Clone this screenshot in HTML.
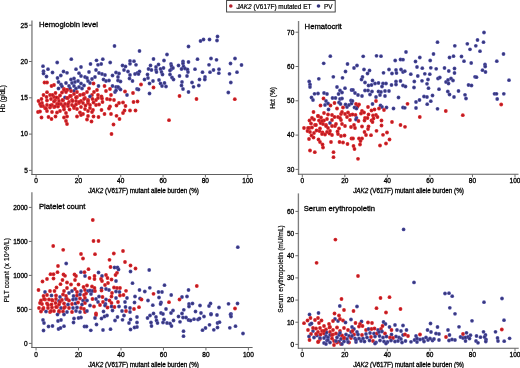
<!DOCTYPE html>
<html><head><meta charset="utf-8"><style>
html,body{margin:0;padding:0;background:#fff;width:520px;height:368px;overflow:hidden}
body{position:relative;font-family:"Liberation Sans", sans-serif}
</style></head><body>
<svg width="520" height="368" viewBox="0 0 520 368" style="position:absolute;left:0;top:0;filter:blur(0.3px)">
<rect width="520" height="368" fill="#fff"/>
<defs><radialGradient id="gr"><stop offset="0" stop-color="#9c1a24"/><stop offset="0.55" stop-color="#cc2228"/><stop offset="1" stop-color="#e42c2c"/></radialGradient><radialGradient id="gb"><stop offset="0" stop-color="#30306a"/><stop offset="0.55" stop-color="#40408a"/><stop offset="1" stop-color="#5858b2"/></radialGradient></defs>
<circle cx="57.2" cy="62.5" r="1.9" fill="url(#gb)"/>
<circle cx="71.3" cy="59.2" r="1.9" fill="url(#gb)"/>
<circle cx="43.0" cy="66.2" r="1.9" fill="url(#gb)"/>
<circle cx="81.0" cy="67.0" r="1.9" fill="url(#gb)"/>
<circle cx="48.0" cy="69.2" r="1.9" fill="url(#gb)"/>
<circle cx="76.0" cy="69.2" r="1.9" fill="url(#gb)"/>
<circle cx="43.5" cy="71.2" r="1.9" fill="url(#gb)"/>
<circle cx="43.5" cy="73.5" r="1.9" fill="url(#gb)"/>
<circle cx="52.5" cy="72.5" r="1.9" fill="url(#gb)"/>
<circle cx="63.5" cy="71.5" r="1.9" fill="url(#gb)"/>
<circle cx="67.0" cy="72.8" r="1.9" fill="url(#gb)"/>
<circle cx="79.0" cy="73.2" r="1.9" fill="url(#gb)"/>
<circle cx="81.0" cy="76.0" r="1.9" fill="url(#gb)"/>
<circle cx="46.5" cy="76.5" r="1.9" fill="url(#gb)"/>
<circle cx="60.8" cy="75.5" r="1.9" fill="url(#gb)"/>
<circle cx="57.5" cy="78.0" r="1.9" fill="url(#gb)"/>
<circle cx="85.0" cy="77.0" r="1.9" fill="url(#gb)"/>
<circle cx="71.0" cy="79.5" r="1.9" fill="url(#gb)"/>
<circle cx="74.0" cy="78.5" r="1.9" fill="url(#gb)"/>
<circle cx="44.5" cy="82.5" r="1.9" fill="url(#gr)"/>
<circle cx="47.0" cy="82.5" r="1.9" fill="url(#gr)"/>
<circle cx="58.5" cy="82.0" r="1.9" fill="url(#gb)"/>
<circle cx="66.0" cy="83.0" r="1.9" fill="url(#gb)"/>
<circle cx="51.5" cy="86.0" r="1.9" fill="url(#gr)"/>
<circle cx="54.0" cy="85.0" r="1.9" fill="url(#gr)"/>
<circle cx="61.0" cy="84.5" r="1.9" fill="url(#gb)"/>
<circle cx="62.0" cy="86.5" r="1.9" fill="url(#gb)"/>
<circle cx="58.5" cy="88.5" r="1.9" fill="url(#gb)"/>
<circle cx="69.0" cy="86.0" r="1.9" fill="url(#gb)"/>
<circle cx="72.0" cy="83.0" r="1.9" fill="url(#gb)"/>
<circle cx="75.0" cy="82.0" r="1.9" fill="url(#gb)"/>
<circle cx="74.0" cy="86.0" r="1.9" fill="url(#gb)"/>
<circle cx="78.0" cy="81.0" r="1.9" fill="url(#gb)"/>
<circle cx="81.0" cy="83.5" r="1.9" fill="url(#gb)"/>
<circle cx="84.0" cy="85.5" r="1.9" fill="url(#gb)"/>
<circle cx="79.0" cy="87.0" r="1.9" fill="url(#gb)"/>
<circle cx="82.0" cy="88.5" r="1.9" fill="url(#gb)"/>
<circle cx="76.0" cy="88.5" r="1.9" fill="url(#gb)"/>
<circle cx="70.0" cy="88.5" r="1.9" fill="url(#gb)"/>
<circle cx="64.0" cy="89.0" r="1.9" fill="url(#gr)"/>
<circle cx="67.0" cy="90.0" r="1.9" fill="url(#gr)"/>
<circle cx="65.0" cy="97.5" r="1.9" fill="url(#gb)"/>
<circle cx="74.0" cy="91.0" r="1.9" fill="url(#gb)"/>
<circle cx="47.0" cy="92.2" r="1.9" fill="url(#gr)"/>
<circle cx="43.5" cy="95.0" r="1.9" fill="url(#gr)"/>
<circle cx="50.0" cy="95.0" r="1.9" fill="url(#gr)"/>
<circle cx="55.5" cy="93.0" r="1.9" fill="url(#gr)"/>
<circle cx="54.0" cy="97.0" r="1.9" fill="url(#gr)"/>
<circle cx="58.0" cy="98.0" r="1.9" fill="url(#gr)"/>
<circle cx="62.0" cy="92.5" r="1.9" fill="url(#gr)"/>
<circle cx="64.0" cy="90.0" r="1.9" fill="url(#gr)"/>
<circle cx="67.0" cy="90.0" r="1.9" fill="url(#gr)"/>
<circle cx="38.5" cy="101.0" r="1.9" fill="url(#gr)"/>
<circle cx="42.0" cy="103.0" r="1.9" fill="url(#gr)"/>
<circle cx="47.0" cy="100.5" r="1.9" fill="url(#gr)"/>
<circle cx="51.0" cy="99.0" r="1.9" fill="url(#gr)"/>
<circle cx="55.0" cy="100.5" r="1.9" fill="url(#gr)"/>
<circle cx="59.0" cy="101.0" r="1.9" fill="url(#gr)"/>
<circle cx="63.0" cy="100.5" r="1.9" fill="url(#gr)"/>
<circle cx="68.0" cy="98.0" r="1.9" fill="url(#gr)"/>
<circle cx="71.0" cy="96.0" r="1.9" fill="url(#gr)"/>
<circle cx="74.0" cy="94.0" r="1.9" fill="url(#gr)"/>
<circle cx="77.0" cy="97.0" r="1.9" fill="url(#gr)"/>
<circle cx="80.0" cy="95.0" r="1.9" fill="url(#gr)"/>
<circle cx="84.0" cy="94.0" r="1.9" fill="url(#gr)"/>
<circle cx="85.0" cy="98.0" r="1.9" fill="url(#gr)"/>
<circle cx="81.0" cy="101.0" r="1.9" fill="url(#gr)"/>
<circle cx="76.0" cy="101.0" r="1.9" fill="url(#gr)"/>
<circle cx="72.0" cy="100.0" r="1.9" fill="url(#gr)"/>
<circle cx="69.0" cy="102.0" r="1.9" fill="url(#gr)"/>
<circle cx="65.0" cy="104.0" r="1.9" fill="url(#gr)"/>
<circle cx="61.0" cy="104.0" r="1.9" fill="url(#gr)"/>
<circle cx="57.0" cy="104.0" r="1.9" fill="url(#gr)"/>
<circle cx="52.0" cy="105.0" r="1.9" fill="url(#gr)"/>
<circle cx="47.0" cy="105.0" r="1.9" fill="url(#gr)"/>
<circle cx="43.0" cy="106.0" r="1.9" fill="url(#gr)"/>
<circle cx="40.0" cy="104.0" r="1.9" fill="url(#gr)"/>
<circle cx="45.0" cy="108.0" r="1.9" fill="url(#gr)"/>
<circle cx="50.0" cy="107.5" r="1.9" fill="url(#gr)"/>
<circle cx="54.0" cy="107.0" r="1.9" fill="url(#gr)"/>
<circle cx="58.0" cy="106.5" r="1.9" fill="url(#gr)"/>
<circle cx="64.0" cy="107.0" r="1.9" fill="url(#gr)"/>
<circle cx="68.0" cy="106.0" r="1.9" fill="url(#gr)"/>
<circle cx="72.0" cy="105.0" r="1.9" fill="url(#gr)"/>
<circle cx="76.0" cy="104.5" r="1.9" fill="url(#gr)"/>
<circle cx="79.0" cy="103.0" r="1.9" fill="url(#gr)"/>
<circle cx="83.0" cy="103.0" r="1.9" fill="url(#gr)"/>
<circle cx="74.0" cy="108.0" r="1.9" fill="url(#gr)"/>
<circle cx="77.0" cy="109.0" r="1.9" fill="url(#gr)"/>
<circle cx="85.0" cy="109.0" r="1.9" fill="url(#gr)"/>
<circle cx="38.0" cy="112.0" r="1.9" fill="url(#gr)"/>
<circle cx="40.0" cy="111.5" r="1.9" fill="url(#gr)"/>
<circle cx="47.0" cy="111.0" r="1.9" fill="url(#gr)"/>
<circle cx="52.0" cy="112.0" r="1.9" fill="url(#gr)"/>
<circle cx="57.0" cy="112.5" r="1.9" fill="url(#gr)"/>
<circle cx="60.0" cy="111.0" r="1.9" fill="url(#gr)"/>
<circle cx="64.0" cy="109.5" r="1.9" fill="url(#gr)"/>
<circle cx="66.0" cy="113.0" r="1.9" fill="url(#gr)"/>
<circle cx="80.0" cy="112.5" r="1.9" fill="url(#gr)"/>
<circle cx="83.0" cy="114.0" r="1.9" fill="url(#gr)"/>
<circle cx="81.0" cy="115.0" r="1.9" fill="url(#gr)"/>
<circle cx="41.5" cy="117.5" r="1.9" fill="url(#gr)"/>
<circle cx="48.5" cy="117.0" r="1.9" fill="url(#gr)"/>
<circle cx="51.5" cy="119.0" r="1.9" fill="url(#gr)"/>
<circle cx="55.5" cy="116.5" r="1.9" fill="url(#gr)"/>
<circle cx="64.0" cy="117.5" r="1.9" fill="url(#gr)"/>
<circle cx="67.0" cy="116.5" r="1.9" fill="url(#gr)"/>
<circle cx="66.0" cy="121.0" r="1.9" fill="url(#gr)"/>
<circle cx="77.0" cy="116.5" r="1.9" fill="url(#gr)"/>
<circle cx="90.5" cy="64.0" r="1.9" fill="url(#gb)"/>
<circle cx="98.0" cy="64.8" r="1.9" fill="url(#gb)"/>
<circle cx="101.2" cy="64.0" r="1.9" fill="url(#gb)"/>
<circle cx="122.5" cy="65.5" r="1.9" fill="url(#gb)"/>
<circle cx="125.5" cy="66.5" r="1.9" fill="url(#gb)"/>
<circle cx="130.0" cy="63.8" r="1.9" fill="url(#gb)"/>
<circle cx="136.0" cy="64.8" r="1.9" fill="url(#gb)"/>
<circle cx="89.0" cy="72.0" r="1.9" fill="url(#gb)"/>
<circle cx="96.0" cy="70.0" r="1.9" fill="url(#gb)"/>
<circle cx="99.0" cy="73.0" r="1.9" fill="url(#gb)"/>
<circle cx="102.0" cy="74.0" r="1.9" fill="url(#gb)"/>
<circle cx="105.0" cy="75.0" r="1.9" fill="url(#gb)"/>
<circle cx="87.0" cy="78.0" r="1.9" fill="url(#gb)"/>
<circle cx="92.0" cy="79.0" r="1.9" fill="url(#gb)"/>
<circle cx="95.0" cy="77.0" r="1.9" fill="url(#gb)"/>
<circle cx="103.5" cy="79.5" r="1.9" fill="url(#gb)"/>
<circle cx="106.0" cy="81.0" r="1.9" fill="url(#gb)"/>
<circle cx="109.0" cy="80.5" r="1.9" fill="url(#gb)"/>
<circle cx="112.5" cy="75.5" r="1.9" fill="url(#gb)"/>
<circle cx="116.0" cy="72.5" r="1.9" fill="url(#gb)"/>
<circle cx="119.0" cy="73.5" r="1.9" fill="url(#gb)"/>
<circle cx="118.0" cy="77.0" r="1.9" fill="url(#gb)"/>
<circle cx="118.0" cy="80.5" r="1.9" fill="url(#gb)"/>
<circle cx="120.5" cy="81.5" r="1.9" fill="url(#gb)"/>
<circle cx="124.0" cy="70.0" r="1.9" fill="url(#gb)"/>
<circle cx="128.0" cy="71.5" r="1.9" fill="url(#gb)"/>
<circle cx="130.0" cy="75.0" r="1.9" fill="url(#gb)"/>
<circle cx="129.5" cy="78.5" r="1.9" fill="url(#gb)"/>
<circle cx="132.5" cy="81.0" r="1.9" fill="url(#gb)"/>
<circle cx="135.0" cy="74.0" r="1.9" fill="url(#gb)"/>
<circle cx="137.5" cy="73.0" r="1.9" fill="url(#gb)"/>
<circle cx="88.0" cy="81.0" r="1.9" fill="url(#gb)"/>
<circle cx="90.0" cy="83.0" r="1.9" fill="url(#gb)"/>
<circle cx="112.5" cy="86.0" r="1.9" fill="url(#gb)"/>
<circle cx="116.0" cy="87.0" r="1.9" fill="url(#gb)"/>
<circle cx="119.0" cy="88.0" r="1.9" fill="url(#gb)"/>
<circle cx="115.0" cy="92.0" r="1.9" fill="url(#gb)"/>
<circle cx="137.0" cy="89.0" r="1.9" fill="url(#gb)"/>
<circle cx="127.0" cy="95.0" r="1.9" fill="url(#gb)"/>
<circle cx="98.5" cy="86.0" r="1.9" fill="url(#gb)"/>
<circle cx="93.5" cy="83.5" r="1.9" fill="url(#gr)"/>
<circle cx="89.0" cy="88.5" r="1.9" fill="url(#gr)"/>
<circle cx="104.5" cy="86.0" r="1.9" fill="url(#gr)"/>
<circle cx="110.0" cy="89.0" r="1.9" fill="url(#gr)"/>
<circle cx="106.0" cy="91.0" r="1.9" fill="url(#gr)"/>
<circle cx="125.0" cy="91.5" r="1.9" fill="url(#gr)"/>
<circle cx="133.0" cy="93.0" r="1.9" fill="url(#gr)"/>
<circle cx="111.0" cy="95.0" r="1.9" fill="url(#gr)"/>
<circle cx="94.0" cy="92.0" r="1.9" fill="url(#gr)"/>
<circle cx="97.0" cy="90.0" r="1.9" fill="url(#gr)"/>
<circle cx="92.0" cy="95.0" r="1.9" fill="url(#gr)"/>
<circle cx="98.0" cy="95.0" r="1.9" fill="url(#gr)"/>
<circle cx="87.0" cy="92.0" r="1.9" fill="url(#gr)"/>
<circle cx="101.5" cy="96.5" r="1.9" fill="url(#gr)"/>
<circle cx="114.5" cy="46.0" r="1.9" fill="url(#gb)"/>
<circle cx="102.8" cy="59.2" r="1.9" fill="url(#gb)"/>
<circle cx="96.5" cy="60.3" r="1.9" fill="url(#gb)"/>
<circle cx="110.2" cy="62.5" r="1.9" fill="url(#gb)"/>
<circle cx="130.0" cy="61.0" r="1.9" fill="url(#gb)"/>
<circle cx="134.0" cy="61.2" r="1.9" fill="url(#gb)"/>
<circle cx="90.0" cy="96.5" r="1.9" fill="url(#gb)"/>
<circle cx="102.0" cy="98.5" r="1.9" fill="url(#gr)"/>
<circle cx="107.0" cy="99.0" r="1.9" fill="url(#gr)"/>
<circle cx="110.0" cy="99.5" r="1.9" fill="url(#gr)"/>
<circle cx="114.0" cy="100.0" r="1.9" fill="url(#gr)"/>
<circle cx="96.0" cy="100.0" r="1.9" fill="url(#gr)"/>
<circle cx="98.0" cy="98.0" r="1.9" fill="url(#gr)"/>
<circle cx="88.0" cy="100.0" r="1.9" fill="url(#gr)"/>
<circle cx="102.5" cy="102.0" r="1.9" fill="url(#gr)"/>
<circle cx="99.0" cy="104.5" r="1.9" fill="url(#gr)"/>
<circle cx="96.0" cy="105.0" r="1.9" fill="url(#gr)"/>
<circle cx="90.0" cy="105.0" r="1.9" fill="url(#gr)"/>
<circle cx="88.0" cy="103.0" r="1.9" fill="url(#gr)"/>
<circle cx="119.0" cy="103.0" r="1.9" fill="url(#gr)"/>
<circle cx="123.0" cy="102.5" r="1.9" fill="url(#gr)"/>
<circle cx="116.5" cy="105.5" r="1.9" fill="url(#gr)"/>
<circle cx="125.5" cy="106.0" r="1.9" fill="url(#gr)"/>
<circle cx="133.5" cy="102.0" r="1.9" fill="url(#gr)"/>
<circle cx="137.5" cy="101.5" r="1.9" fill="url(#gr)"/>
<circle cx="110.0" cy="106.5" r="1.9" fill="url(#gr)"/>
<circle cx="109.0" cy="108.5" r="1.9" fill="url(#gr)"/>
<circle cx="101.5" cy="110.0" r="1.9" fill="url(#gr)"/>
<circle cx="93.0" cy="110.0" r="1.9" fill="url(#gr)"/>
<circle cx="88.0" cy="111.0" r="1.9" fill="url(#gr)"/>
<circle cx="90.0" cy="108.0" r="1.9" fill="url(#gr)"/>
<circle cx="124.5" cy="110.5" r="1.9" fill="url(#gr)"/>
<circle cx="123.0" cy="113.0" r="1.9" fill="url(#gr)"/>
<circle cx="130.0" cy="110.5" r="1.9" fill="url(#gr)"/>
<circle cx="135.5" cy="110.5" r="1.9" fill="url(#gr)"/>
<circle cx="104.5" cy="114.0" r="1.9" fill="url(#gr)"/>
<circle cx="111.0" cy="114.0" r="1.9" fill="url(#gr)"/>
<circle cx="116.5" cy="115.8" r="1.9" fill="url(#gr)"/>
<circle cx="119.5" cy="119.0" r="1.9" fill="url(#gr)"/>
<circle cx="93.5" cy="116.5" r="1.9" fill="url(#gr)"/>
<circle cx="98.5" cy="117.0" r="1.9" fill="url(#gr)"/>
<circle cx="88.0" cy="116.0" r="1.9" fill="url(#gr)"/>
<circle cx="87.0" cy="119.5" r="1.9" fill="url(#gr)"/>
<circle cx="91.5" cy="121.5" r="1.9" fill="url(#gr)"/>
<circle cx="113.5" cy="124.5" r="1.9" fill="url(#gr)"/>
<circle cx="92.0" cy="112.0" r="1.9" fill="url(#gr)"/>
<circle cx="67.0" cy="124.0" r="1.9" fill="url(#gr)"/>
<circle cx="111.5" cy="134.0" r="1.9" fill="url(#gr)"/>
<circle cx="139.5" cy="51.0" r="1.9" fill="url(#gb)"/>
<circle cx="188.5" cy="46.5" r="1.9" fill="url(#gb)"/>
<circle cx="167.0" cy="54.5" r="1.9" fill="url(#gb)"/>
<circle cx="153.5" cy="59.0" r="1.9" fill="url(#gb)"/>
<circle cx="164.0" cy="60.5" r="1.9" fill="url(#gb)"/>
<circle cx="183.0" cy="61.5" r="1.9" fill="url(#gb)"/>
<circle cx="188.5" cy="62.0" r="1.9" fill="url(#gb)"/>
<circle cx="150.5" cy="65.5" r="1.9" fill="url(#gb)"/>
<circle cx="158.5" cy="64.5" r="1.9" fill="url(#gb)"/>
<circle cx="156.0" cy="67.0" r="1.9" fill="url(#gb)"/>
<circle cx="171.0" cy="64.0" r="1.9" fill="url(#gb)"/>
<circle cx="171.5" cy="66.0" r="1.9" fill="url(#gb)"/>
<circle cx="178.5" cy="65.5" r="1.9" fill="url(#gb)"/>
<circle cx="183.0" cy="63.5" r="1.9" fill="url(#gb)"/>
<circle cx="183.5" cy="66.5" r="1.9" fill="url(#gb)"/>
<circle cx="148.5" cy="69.0" r="1.9" fill="url(#gb)"/>
<circle cx="151.5" cy="70.0" r="1.9" fill="url(#gb)"/>
<circle cx="156.0" cy="70.0" r="1.9" fill="url(#gb)"/>
<circle cx="156.5" cy="72.0" r="1.9" fill="url(#gb)"/>
<circle cx="160.5" cy="69.0" r="1.9" fill="url(#gb)"/>
<circle cx="163.5" cy="68.0" r="1.9" fill="url(#gb)"/>
<circle cx="161.5" cy="72.0" r="1.9" fill="url(#gb)"/>
<circle cx="162.5" cy="74.5" r="1.9" fill="url(#gb)"/>
<circle cx="171.5" cy="69.0" r="1.9" fill="url(#gb)"/>
<circle cx="173.0" cy="68.0" r="1.9" fill="url(#gb)"/>
<circle cx="170.0" cy="70.5" r="1.9" fill="url(#gb)"/>
<circle cx="181.5" cy="69.0" r="1.9" fill="url(#gb)"/>
<circle cx="185.0" cy="68.5" r="1.9" fill="url(#gb)"/>
<circle cx="187.5" cy="69.5" r="1.9" fill="url(#gb)"/>
<circle cx="188.0" cy="72.0" r="1.9" fill="url(#gb)"/>
<circle cx="139.5" cy="71.5" r="1.9" fill="url(#gb)"/>
<circle cx="138.5" cy="74.0" r="1.9" fill="url(#gb)"/>
<circle cx="147.5" cy="74.5" r="1.9" fill="url(#gb)"/>
<circle cx="148.0" cy="78.0" r="1.9" fill="url(#gb)"/>
<circle cx="144.5" cy="79.5" r="1.9" fill="url(#gb)"/>
<circle cx="170.0" cy="74.5" r="1.9" fill="url(#gb)"/>
<circle cx="172.0" cy="77.5" r="1.9" fill="url(#gb)"/>
<circle cx="173.5" cy="79.5" r="1.9" fill="url(#gb)"/>
<circle cx="179.5" cy="76.0" r="1.9" fill="url(#gb)"/>
<circle cx="187.0" cy="76.0" r="1.9" fill="url(#gb)"/>
<circle cx="159.0" cy="80.0" r="1.9" fill="url(#gb)"/>
<circle cx="153.0" cy="81.0" r="1.9" fill="url(#gb)"/>
<circle cx="149.5" cy="83.5" r="1.9" fill="url(#gb)"/>
<circle cx="160.5" cy="83.5" r="1.9" fill="url(#gb)"/>
<circle cx="164.5" cy="83.0" r="1.9" fill="url(#gb)"/>
<circle cx="162.0" cy="86.0" r="1.9" fill="url(#gb)"/>
<circle cx="166.0" cy="86.5" r="1.9" fill="url(#gb)"/>
<circle cx="182.0" cy="82.0" r="1.9" fill="url(#gb)"/>
<circle cx="181.5" cy="85.5" r="1.9" fill="url(#gb)"/>
<circle cx="183.0" cy="89.0" r="1.9" fill="url(#gb)"/>
<circle cx="188.5" cy="92.0" r="1.9" fill="url(#gb)"/>
<circle cx="138.5" cy="89.5" r="1.9" fill="url(#gb)"/>
<circle cx="149.5" cy="93.5" r="1.9" fill="url(#gb)"/>
<circle cx="141.0" cy="84.5" r="1.9" fill="url(#gr)"/>
<circle cx="153.5" cy="87.5" r="1.9" fill="url(#gr)"/>
<circle cx="179.5" cy="96.0" r="1.9" fill="url(#gr)"/>
<circle cx="169.0" cy="120.2" r="1.9" fill="url(#gr)"/>
<circle cx="200.5" cy="41.0" r="1.9" fill="url(#gb)"/>
<circle cx="203.5" cy="39.5" r="1.9" fill="url(#gb)"/>
<circle cx="209.5" cy="39.5" r="1.9" fill="url(#gb)"/>
<circle cx="217.5" cy="36.5" r="1.9" fill="url(#gb)"/>
<circle cx="217.0" cy="40.5" r="1.9" fill="url(#gb)"/>
<circle cx="197.5" cy="59.2" r="1.9" fill="url(#gb)"/>
<circle cx="211.0" cy="58.5" r="1.9" fill="url(#gb)"/>
<circle cx="216.5" cy="59.8" r="1.9" fill="url(#gb)"/>
<circle cx="235.0" cy="58.5" r="1.9" fill="url(#gb)"/>
<circle cx="230.5" cy="63.5" r="1.9" fill="url(#gb)"/>
<circle cx="209.0" cy="64.8" r="1.9" fill="url(#gb)"/>
<circle cx="241.5" cy="65.0" r="1.9" fill="url(#gb)"/>
<circle cx="195.0" cy="69.2" r="1.9" fill="url(#gb)"/>
<circle cx="202.5" cy="72.2" r="1.9" fill="url(#gb)"/>
<circle cx="210.0" cy="72.2" r="1.9" fill="url(#gb)"/>
<circle cx="213.5" cy="70.0" r="1.9" fill="url(#gb)"/>
<circle cx="219.0" cy="69.2" r="1.9" fill="url(#gb)"/>
<circle cx="218.8" cy="73.2" r="1.9" fill="url(#gb)"/>
<circle cx="229.5" cy="73.8" r="1.9" fill="url(#gb)"/>
<circle cx="237.0" cy="72.2" r="1.9" fill="url(#gb)"/>
<circle cx="205.0" cy="77.0" r="1.9" fill="url(#gb)"/>
<circle cx="204.8" cy="79.5" r="1.9" fill="url(#gb)"/>
<circle cx="199.5" cy="79.5" r="1.9" fill="url(#gb)"/>
<circle cx="192.0" cy="82.5" r="1.9" fill="url(#gb)"/>
<circle cx="193.5" cy="86.8" r="1.9" fill="url(#gb)"/>
<circle cx="198.8" cy="85.5" r="1.9" fill="url(#gb)"/>
<circle cx="230.8" cy="82.5" r="1.9" fill="url(#gb)"/>
<circle cx="228.3" cy="92.5" r="1.9" fill="url(#gb)"/>
<circle cx="196.5" cy="99.0" r="1.9" fill="url(#gr)"/>
<circle cx="234.8" cy="99.2" r="1.9" fill="url(#gr)"/>
<circle cx="52.5" cy="95.0" r="1.9" fill="url(#gr)"/>
<circle cx="54.0" cy="101.5" r="1.9" fill="url(#gr)"/>
<circle cx="56.5" cy="97.5" r="1.9" fill="url(#gr)"/>
<circle cx="50.5" cy="105.5" r="1.9" fill="url(#gr)"/>
<circle cx="55.0" cy="106.5" r="1.9" fill="url(#gr)"/>
<circle cx="60.0" cy="95.5" r="1.9" fill="url(#gr)"/>
<circle cx="62.5" cy="100.0" r="1.9" fill="url(#gr)"/>
<circle cx="58.5" cy="104.0" r="1.9" fill="url(#gr)"/>
<circle cx="63.0" cy="106.0" r="1.9" fill="url(#gr)"/>
<circle cx="67.0" cy="98.0" r="1.9" fill="url(#gr)"/>
<circle cx="70.0" cy="96.0" r="1.9" fill="url(#gr)"/>
<circle cx="72.5" cy="101.0" r="1.9" fill="url(#gr)"/>
<circle cx="76.0" cy="97.5" r="1.9" fill="url(#gr)"/>
<circle cx="79.0" cy="102.0" r="1.9" fill="url(#gr)"/>
<circle cx="84.0" cy="99.0" r="1.9" fill="url(#gr)"/>
<circle cx="88.0" cy="101.0" r="1.9" fill="url(#gr)"/>
<circle cx="68.0" cy="104.0" r="1.9" fill="url(#gr)"/>
<circle cx="74.0" cy="106.5" r="1.9" fill="url(#gr)"/>
<circle cx="81.0" cy="107.0" r="1.9" fill="url(#gr)"/>
<circle cx="66.0" cy="92.0" r="1.9" fill="url(#gr)"/>
<circle cx="71.0" cy="91.0" r="1.9" fill="url(#gr)"/>
<circle cx="77.0" cy="92.0" r="1.9" fill="url(#gr)"/>
<circle cx="83.0" cy="94.5" r="1.9" fill="url(#gr)"/>
<circle cx="46.0" cy="108.5" r="1.9" fill="url(#gr)"/>
<circle cx="41.0" cy="106.0" r="1.9" fill="url(#gr)"/>
<circle cx="118.0" cy="87.0" r="1.9" fill="url(#gb)"/>
<circle cx="120.5" cy="89.5" r="1.9" fill="url(#gb)"/>
<circle cx="116.0" cy="90.5" r="1.9" fill="url(#gb)"/>
<circle cx="46.5" cy="97.0" r="1.9" fill="url(#gr)"/>
<circle cx="41.5" cy="99.0" r="1.9" fill="url(#gr)"/>
<circle cx="69.5" cy="109.5" r="1.9" fill="url(#gr)"/>
<circle cx="85.5" cy="105.5" r="1.9" fill="url(#gr)"/>
<circle cx="92.5" cy="99.0" r="1.9" fill="url(#gr)"/>
<circle cx="93.5" cy="102.5" r="1.9" fill="url(#gr)"/>
<circle cx="330.3" cy="56.2" r="1.9" fill="url(#gb)"/>
<circle cx="323.7" cy="63.3" r="1.9" fill="url(#gb)"/>
<circle cx="347.5" cy="64.0" r="1.9" fill="url(#gb)"/>
<circle cx="345.5" cy="71.5" r="1.9" fill="url(#gb)"/>
<circle cx="333.3" cy="76.8" r="1.9" fill="url(#gb)"/>
<circle cx="342.5" cy="77.8" r="1.9" fill="url(#gb)"/>
<circle cx="318.8" cy="78.8" r="1.9" fill="url(#gb)"/>
<circle cx="309.2" cy="81.5" r="1.9" fill="url(#gb)"/>
<circle cx="310.0" cy="84.5" r="1.9" fill="url(#gb)"/>
<circle cx="310.0" cy="87.0" r="1.9" fill="url(#gb)"/>
<circle cx="337.0" cy="87.0" r="1.9" fill="url(#gb)"/>
<circle cx="345.0" cy="88.2" r="1.9" fill="url(#gb)"/>
<circle cx="340.0" cy="90.5" r="1.9" fill="url(#gb)"/>
<circle cx="342.0" cy="92.5" r="1.9" fill="url(#gb)"/>
<circle cx="338.5" cy="94.0" r="1.9" fill="url(#gb)"/>
<circle cx="314.5" cy="93.8" r="1.9" fill="url(#gb)"/>
<circle cx="318.0" cy="93.5" r="1.9" fill="url(#gb)"/>
<circle cx="324.0" cy="93.0" r="1.9" fill="url(#gb)"/>
<circle cx="327.0" cy="94.0" r="1.9" fill="url(#gb)"/>
<circle cx="351.5" cy="90.0" r="1.9" fill="url(#gb)"/>
<circle cx="311.5" cy="97.5" r="1.9" fill="url(#gb)"/>
<circle cx="313.0" cy="100.0" r="1.9" fill="url(#gb)"/>
<circle cx="323.5" cy="98.5" r="1.9" fill="url(#gr)"/>
<circle cx="326.0" cy="101.0" r="1.9" fill="url(#gb)"/>
<circle cx="325.0" cy="105.0" r="1.9" fill="url(#gb)"/>
<circle cx="328.0" cy="103.5" r="1.9" fill="url(#gb)"/>
<circle cx="332.5" cy="98.0" r="1.9" fill="url(#gb)"/>
<circle cx="335.5" cy="98.0" r="1.9" fill="url(#gb)"/>
<circle cx="340.0" cy="99.0" r="1.9" fill="url(#gb)"/>
<circle cx="342.0" cy="98.5" r="1.9" fill="url(#gb)"/>
<circle cx="339.0" cy="102.5" r="1.9" fill="url(#gb)"/>
<circle cx="340.5" cy="104.0" r="1.9" fill="url(#gb)"/>
<circle cx="345.5" cy="104.5" r="1.9" fill="url(#gb)"/>
<circle cx="347.0" cy="107.0" r="1.9" fill="url(#gb)"/>
<circle cx="349.0" cy="105.0" r="1.9" fill="url(#gb)"/>
<circle cx="351.0" cy="100.5" r="1.9" fill="url(#gb)"/>
<circle cx="351.5" cy="103.5" r="1.9" fill="url(#gb)"/>
<circle cx="320.5" cy="105.5" r="1.9" fill="url(#gr)"/>
<circle cx="330.5" cy="105.5" r="1.9" fill="url(#gr)"/>
<circle cx="334.5" cy="103.0" r="1.9" fill="url(#gr)"/>
<circle cx="328.5" cy="109.5" r="1.9" fill="url(#gb)"/>
<circle cx="337.0" cy="108.5" r="1.9" fill="url(#gr)"/>
<circle cx="343.0" cy="107.5" r="1.9" fill="url(#gr)"/>
<circle cx="313.5" cy="112.0" r="1.9" fill="url(#gr)"/>
<circle cx="324.0" cy="113.0" r="1.9" fill="url(#gr)"/>
<circle cx="318.0" cy="116.0" r="1.9" fill="url(#gr)"/>
<circle cx="321.0" cy="117.5" r="1.9" fill="url(#gr)"/>
<circle cx="328.0" cy="114.5" r="1.9" fill="url(#gr)"/>
<circle cx="332.0" cy="115.0" r="1.9" fill="url(#gr)"/>
<circle cx="334.5" cy="117.0" r="1.9" fill="url(#gr)"/>
<circle cx="327.0" cy="119.0" r="1.9" fill="url(#gr)"/>
<circle cx="324.0" cy="120.5" r="1.9" fill="url(#gr)"/>
<circle cx="319.0" cy="120.5" r="1.9" fill="url(#gr)"/>
<circle cx="314.0" cy="119.5" r="1.9" fill="url(#gr)"/>
<circle cx="309.5" cy="120.5" r="1.9" fill="url(#gr)"/>
<circle cx="311.0" cy="123.5" r="1.9" fill="url(#gr)"/>
<circle cx="315.0" cy="125.0" r="1.9" fill="url(#gr)"/>
<circle cx="320.5" cy="123.0" r="1.9" fill="url(#gr)"/>
<circle cx="323.0" cy="124.0" r="1.9" fill="url(#gr)"/>
<circle cx="326.0" cy="125.0" r="1.9" fill="url(#gr)"/>
<circle cx="330.0" cy="123.0" r="1.9" fill="url(#gb)"/>
<circle cx="332.0" cy="126.0" r="1.9" fill="url(#gr)"/>
<circle cx="335.0" cy="126.0" r="1.9" fill="url(#gr)"/>
<circle cx="328.0" cy="128.0" r="1.9" fill="url(#gr)"/>
<circle cx="338.0" cy="117.0" r="1.9" fill="url(#gr)"/>
<circle cx="341.0" cy="114.0" r="1.9" fill="url(#gr)"/>
<circle cx="342.0" cy="112.0" r="1.9" fill="url(#gr)"/>
<circle cx="345.0" cy="114.0" r="1.9" fill="url(#gr)"/>
<circle cx="348.0" cy="112.5" r="1.9" fill="url(#gr)"/>
<circle cx="350.0" cy="115.0" r="1.9" fill="url(#gr)"/>
<circle cx="347.0" cy="117.0" r="1.9" fill="url(#gr)"/>
<circle cx="350.0" cy="120.0" r="1.9" fill="url(#gr)"/>
<circle cx="341.0" cy="120.0" r="1.9" fill="url(#gr)"/>
<circle cx="342.0" cy="124.0" r="1.9" fill="url(#gr)"/>
<circle cx="345.0" cy="126.0" r="1.9" fill="url(#gr)"/>
<circle cx="339.0" cy="128.5" r="1.9" fill="url(#gr)"/>
<circle cx="304.0" cy="128.0" r="1.9" fill="url(#gr)"/>
<circle cx="309.5" cy="128.0" r="1.9" fill="url(#gr)"/>
<circle cx="320.0" cy="128.5" r="1.9" fill="url(#gr)"/>
<circle cx="351.0" cy="127.0" r="1.9" fill="url(#gr)"/>
<circle cx="312.0" cy="127.5" r="1.9" fill="url(#gr)"/>
<circle cx="307.5" cy="131.0" r="1.9" fill="url(#gr)"/>
<circle cx="310.0" cy="132.0" r="1.9" fill="url(#gr)"/>
<circle cx="316.5" cy="130.5" r="1.9" fill="url(#gr)"/>
<circle cx="319.5" cy="131.0" r="1.9" fill="url(#gr)"/>
<circle cx="322.5" cy="132.5" r="1.9" fill="url(#gr)"/>
<circle cx="325.0" cy="134.5" r="1.9" fill="url(#gr)"/>
<circle cx="327.0" cy="132.0" r="1.9" fill="url(#gr)"/>
<circle cx="329.5" cy="133.5" r="1.9" fill="url(#gr)"/>
<circle cx="332.0" cy="135.0" r="1.9" fill="url(#gr)"/>
<circle cx="337.5" cy="131.5" r="1.9" fill="url(#gr)"/>
<circle cx="338.0" cy="134.0" r="1.9" fill="url(#gr)"/>
<circle cx="341.0" cy="136.0" r="1.9" fill="url(#gr)"/>
<circle cx="344.5" cy="135.5" r="1.9" fill="url(#gr)"/>
<circle cx="351.5" cy="138.5" r="1.9" fill="url(#gr)"/>
<circle cx="311.5" cy="135.5" r="1.9" fill="url(#gr)"/>
<circle cx="313.5" cy="137.5" r="1.9" fill="url(#gr)"/>
<circle cx="309.0" cy="139.0" r="1.9" fill="url(#gr)"/>
<circle cx="318.5" cy="139.5" r="1.9" fill="url(#gr)"/>
<circle cx="320.0" cy="142.0" r="1.9" fill="url(#gr)"/>
<circle cx="331.0" cy="142.0" r="1.9" fill="url(#gr)"/>
<circle cx="339.5" cy="142.0" r="1.9" fill="url(#gr)"/>
<circle cx="343.0" cy="142.5" r="1.9" fill="url(#gr)"/>
<circle cx="347.5" cy="144.0" r="1.9" fill="url(#gr)"/>
<circle cx="322.5" cy="144.5" r="1.9" fill="url(#gr)"/>
<circle cx="323.0" cy="147.5" r="1.9" fill="url(#gr)"/>
<circle cx="310.0" cy="150.5" r="1.9" fill="url(#gr)"/>
<circle cx="314.8" cy="152.2" r="1.9" fill="url(#gr)"/>
<circle cx="333.5" cy="152.2" r="1.9" fill="url(#gr)"/>
<circle cx="333.5" cy="157.2" r="1.9" fill="url(#gr)"/>
<circle cx="363.2" cy="56.3" r="1.9" fill="url(#gb)"/>
<circle cx="376.5" cy="55.8" r="1.9" fill="url(#gb)"/>
<circle cx="381.0" cy="56.2" r="1.9" fill="url(#gb)"/>
<circle cx="395.2" cy="60.5" r="1.9" fill="url(#gb)"/>
<circle cx="400.5" cy="59.5" r="1.9" fill="url(#gb)"/>
<circle cx="403.0" cy="59.7" r="1.9" fill="url(#gb)"/>
<circle cx="357.0" cy="65.5" r="1.9" fill="url(#gb)"/>
<circle cx="354.0" cy="68.0" r="1.9" fill="url(#gb)"/>
<circle cx="364.0" cy="69.5" r="1.9" fill="url(#gb)"/>
<circle cx="369.5" cy="70.5" r="1.9" fill="url(#gb)"/>
<circle cx="367.5" cy="73.5" r="1.9" fill="url(#gb)"/>
<circle cx="383.5" cy="72.8" r="1.9" fill="url(#gb)"/>
<circle cx="389.0" cy="69.5" r="1.9" fill="url(#gb)"/>
<circle cx="392.0" cy="73.5" r="1.9" fill="url(#gb)"/>
<circle cx="396.0" cy="70.0" r="1.9" fill="url(#gb)"/>
<circle cx="396.5" cy="73.0" r="1.9" fill="url(#gb)"/>
<circle cx="401.0" cy="69.5" r="1.9" fill="url(#gb)"/>
<circle cx="403.0" cy="72.0" r="1.9" fill="url(#gb)"/>
<circle cx="362.5" cy="77.0" r="1.9" fill="url(#gb)"/>
<circle cx="361.5" cy="79.5" r="1.9" fill="url(#gb)"/>
<circle cx="365.0" cy="82.5" r="1.9" fill="url(#gb)"/>
<circle cx="372.5" cy="80.5" r="1.9" fill="url(#gb)"/>
<circle cx="368.5" cy="85.5" r="1.9" fill="url(#gb)"/>
<circle cx="371.5" cy="85.0" r="1.9" fill="url(#gb)"/>
<circle cx="375.0" cy="83.5" r="1.9" fill="url(#gb)"/>
<circle cx="378.5" cy="83.0" r="1.9" fill="url(#gb)"/>
<circle cx="383.0" cy="83.5" r="1.9" fill="url(#gb)"/>
<circle cx="386.0" cy="83.5" r="1.9" fill="url(#gb)"/>
<circle cx="382.0" cy="86.5" r="1.9" fill="url(#gb)"/>
<circle cx="391.5" cy="85.0" r="1.9" fill="url(#gb)"/>
<circle cx="396.0" cy="81.5" r="1.9" fill="url(#gb)"/>
<circle cx="400.5" cy="81.0" r="1.9" fill="url(#gb)"/>
<circle cx="396.0" cy="84.5" r="1.9" fill="url(#gb)"/>
<circle cx="403.0" cy="85.5" r="1.9" fill="url(#gb)"/>
<circle cx="353.0" cy="90.0" r="1.9" fill="url(#gb)"/>
<circle cx="355.0" cy="93.0" r="1.9" fill="url(#gb)"/>
<circle cx="358.0" cy="95.0" r="1.9" fill="url(#gb)"/>
<circle cx="362.0" cy="96.0" r="1.9" fill="url(#gb)"/>
<circle cx="365.0" cy="90.5" r="1.9" fill="url(#gb)"/>
<circle cx="368.0" cy="90.5" r="1.9" fill="url(#gb)"/>
<circle cx="372.0" cy="91.5" r="1.9" fill="url(#gb)"/>
<circle cx="370.0" cy="94.5" r="1.9" fill="url(#gb)"/>
<circle cx="378.5" cy="91.5" r="1.9" fill="url(#gb)"/>
<circle cx="381.0" cy="92.0" r="1.9" fill="url(#gb)"/>
<circle cx="380.0" cy="95.0" r="1.9" fill="url(#gb)"/>
<circle cx="385.0" cy="91.0" r="1.9" fill="url(#gb)"/>
<circle cx="389.0" cy="91.0" r="1.9" fill="url(#gb)"/>
<circle cx="385.0" cy="96.0" r="1.9" fill="url(#gb)"/>
<circle cx="376.0" cy="97.0" r="1.9" fill="url(#gb)"/>
<circle cx="398.5" cy="97.5" r="1.9" fill="url(#gb)"/>
<circle cx="352.5" cy="101.0" r="1.9" fill="url(#gb)"/>
<circle cx="376.0" cy="101.0" r="1.9" fill="url(#gr)"/>
<circle cx="372.5" cy="104.0" r="1.9" fill="url(#gb)"/>
<circle cx="380.5" cy="105.5" r="1.9" fill="url(#gb)"/>
<circle cx="382.0" cy="107.0" r="1.9" fill="url(#gb)"/>
<circle cx="386.5" cy="107.5" r="1.9" fill="url(#gb)"/>
<circle cx="393.5" cy="108.5" r="1.9" fill="url(#gb)"/>
<circle cx="403.0" cy="107.5" r="1.9" fill="url(#gb)"/>
<circle cx="356.0" cy="104.0" r="1.9" fill="url(#gr)"/>
<circle cx="359.0" cy="104.5" r="1.9" fill="url(#gr)"/>
<circle cx="357.5" cy="106.5" r="1.9" fill="url(#gr)"/>
<circle cx="354.5" cy="107.5" r="1.9" fill="url(#gb)"/>
<circle cx="356.5" cy="108.5" r="1.9" fill="url(#gb)"/>
<circle cx="368.0" cy="107.0" r="1.9" fill="url(#gr)"/>
<circle cx="379.0" cy="108.5" r="1.9" fill="url(#gr)"/>
<circle cx="384.0" cy="110.0" r="1.9" fill="url(#gr)"/>
<circle cx="371.5" cy="110.5" r="1.9" fill="url(#gr)"/>
<circle cx="374.5" cy="109.5" r="1.9" fill="url(#gr)"/>
<circle cx="362.0" cy="111.0" r="1.9" fill="url(#gr)"/>
<circle cx="361.0" cy="113.5" r="1.9" fill="url(#gr)"/>
<circle cx="364.0" cy="112.5" r="1.9" fill="url(#gr)"/>
<circle cx="355.5" cy="115.0" r="1.9" fill="url(#gr)"/>
<circle cx="352.5" cy="114.5" r="1.9" fill="url(#gr)"/>
<circle cx="356.5" cy="118.0" r="1.9" fill="url(#gb)"/>
<circle cx="356.0" cy="119.5" r="1.9" fill="url(#gb)"/>
<circle cx="358.5" cy="121.0" r="1.9" fill="url(#gr)"/>
<circle cx="368.5" cy="114.5" r="1.9" fill="url(#gr)"/>
<circle cx="365.0" cy="118.0" r="1.9" fill="url(#gr)"/>
<circle cx="367.5" cy="118.0" r="1.9" fill="url(#gr)"/>
<circle cx="364.5" cy="120.5" r="1.9" fill="url(#gr)"/>
<circle cx="373.0" cy="115.5" r="1.9" fill="url(#gr)"/>
<circle cx="376.0" cy="115.0" r="1.9" fill="url(#gr)"/>
<circle cx="377.5" cy="117.0" r="1.9" fill="url(#gr)"/>
<circle cx="373.5" cy="118.5" r="1.9" fill="url(#gr)"/>
<circle cx="371.5" cy="120.5" r="1.9" fill="url(#gr)"/>
<circle cx="372.5" cy="122.0" r="1.9" fill="url(#gr)"/>
<circle cx="381.5" cy="120.5" r="1.9" fill="url(#gr)"/>
<circle cx="392.0" cy="122.0" r="1.9" fill="url(#gr)"/>
<circle cx="381.5" cy="125.5" r="1.9" fill="url(#gr)"/>
<circle cx="400.5" cy="125.0" r="1.9" fill="url(#gr)"/>
<circle cx="362.0" cy="126.5" r="1.9" fill="url(#gr)"/>
<circle cx="368.5" cy="126.5" r="1.9" fill="url(#gr)"/>
<circle cx="354.0" cy="125.0" r="1.9" fill="url(#gr)"/>
<circle cx="355.0" cy="128.0" r="1.9" fill="url(#gr)"/>
<circle cx="368.0" cy="129.0" r="1.9" fill="url(#gr)"/>
<circle cx="364.5" cy="132.0" r="1.9" fill="url(#gr)"/>
<circle cx="366.0" cy="135.0" r="1.9" fill="url(#gr)"/>
<circle cx="371.0" cy="135.2" r="1.9" fill="url(#gr)"/>
<circle cx="376.5" cy="130.8" r="1.9" fill="url(#gr)"/>
<circle cx="387.0" cy="132.5" r="1.9" fill="url(#gr)"/>
<circle cx="383.0" cy="134.8" r="1.9" fill="url(#gr)"/>
<circle cx="389.5" cy="139.5" r="1.9" fill="url(#gr)"/>
<circle cx="386.0" cy="143.5" r="1.9" fill="url(#gr)"/>
<circle cx="380.0" cy="145.5" r="1.9" fill="url(#gr)"/>
<circle cx="353.0" cy="138.5" r="1.9" fill="url(#gr)"/>
<circle cx="359.0" cy="138.5" r="1.9" fill="url(#gr)"/>
<circle cx="362.0" cy="138.5" r="1.9" fill="url(#gr)"/>
<circle cx="360.5" cy="141.0" r="1.9" fill="url(#gr)"/>
<circle cx="360.0" cy="144.5" r="1.9" fill="url(#gr)"/>
<circle cx="353.5" cy="146.0" r="1.9" fill="url(#gr)"/>
<circle cx="354.5" cy="149.0" r="1.9" fill="url(#gr)"/>
<circle cx="358.0" cy="158.8" r="1.9" fill="url(#gr)"/>
<circle cx="437.5" cy="42.2" r="1.9" fill="url(#gb)"/>
<circle cx="454.8" cy="45.8" r="1.9" fill="url(#gb)"/>
<circle cx="406.0" cy="52.0" r="1.9" fill="url(#gb)"/>
<circle cx="433.5" cy="54.0" r="1.9" fill="url(#gb)"/>
<circle cx="419.8" cy="57.5" r="1.9" fill="url(#gb)"/>
<circle cx="430.2" cy="60.5" r="1.9" fill="url(#gb)"/>
<circle cx="415.5" cy="61.5" r="1.9" fill="url(#gb)"/>
<circle cx="449.5" cy="57.5" r="1.9" fill="url(#gb)"/>
<circle cx="453.5" cy="56.2" r="1.9" fill="url(#gb)"/>
<circle cx="417.0" cy="67.0" r="1.9" fill="url(#gb)"/>
<circle cx="422.3" cy="68.2" r="1.9" fill="url(#gb)"/>
<circle cx="430.8" cy="67.8" r="1.9" fill="url(#gb)"/>
<circle cx="436.2" cy="68.8" r="1.9" fill="url(#gb)"/>
<circle cx="444.5" cy="68.0" r="1.9" fill="url(#gb)"/>
<circle cx="448.8" cy="71.0" r="1.9" fill="url(#gb)"/>
<circle cx="454.5" cy="68.5" r="1.9" fill="url(#gb)"/>
<circle cx="454.5" cy="73.0" r="1.9" fill="url(#gb)"/>
<circle cx="404.8" cy="71.2" r="1.9" fill="url(#gb)"/>
<circle cx="410.8" cy="74.2" r="1.9" fill="url(#gb)"/>
<circle cx="417.8" cy="76.0" r="1.9" fill="url(#gb)"/>
<circle cx="424.8" cy="73.8" r="1.9" fill="url(#gb)"/>
<circle cx="429.8" cy="74.2" r="1.9" fill="url(#gb)"/>
<circle cx="438.0" cy="78.5" r="1.9" fill="url(#gb)"/>
<circle cx="439.8" cy="77.5" r="1.9" fill="url(#gb)"/>
<circle cx="428.0" cy="79.5" r="1.9" fill="url(#gb)"/>
<circle cx="422.0" cy="80.8" r="1.9" fill="url(#gb)"/>
<circle cx="414.3" cy="81.5" r="1.9" fill="url(#gb)"/>
<circle cx="427.0" cy="83.8" r="1.9" fill="url(#gb)"/>
<circle cx="446.0" cy="82.0" r="1.9" fill="url(#gb)"/>
<circle cx="448.5" cy="83.5" r="1.9" fill="url(#gb)"/>
<circle cx="448.0" cy="80.0" r="1.9" fill="url(#gb)"/>
<circle cx="451.0" cy="78.5" r="1.9" fill="url(#gb)"/>
<circle cx="453.0" cy="80.5" r="1.9" fill="url(#gb)"/>
<circle cx="405.5" cy="86.5" r="1.9" fill="url(#gb)"/>
<circle cx="414.0" cy="87.5" r="1.9" fill="url(#gb)"/>
<circle cx="428.5" cy="88.2" r="1.9" fill="url(#gb)"/>
<circle cx="439.0" cy="89.2" r="1.9" fill="url(#gb)"/>
<circle cx="447.8" cy="91.5" r="1.9" fill="url(#gb)"/>
<circle cx="449.5" cy="94.5" r="1.9" fill="url(#gb)"/>
<circle cx="424.0" cy="96.5" r="1.9" fill="url(#gb)"/>
<circle cx="427.0" cy="97.0" r="1.9" fill="url(#gb)"/>
<circle cx="432.5" cy="95.5" r="1.9" fill="url(#gb)"/>
<circle cx="454.0" cy="97.0" r="1.9" fill="url(#gb)"/>
<circle cx="419.5" cy="100.0" r="1.9" fill="url(#gb)"/>
<circle cx="416.0" cy="102.0" r="1.9" fill="url(#gb)"/>
<circle cx="430.8" cy="101.2" r="1.9" fill="url(#gb)"/>
<circle cx="427.2" cy="104.2" r="1.9" fill="url(#gb)"/>
<circle cx="416.0" cy="108.0" r="1.9" fill="url(#gb)"/>
<circle cx="404.8" cy="107.8" r="1.9" fill="url(#gb)"/>
<circle cx="437.5" cy="108.8" r="1.9" fill="url(#gb)"/>
<circle cx="407.5" cy="103.8" r="1.9" fill="url(#gr)"/>
<circle cx="445.8" cy="111.0" r="1.9" fill="url(#gr)"/>
<circle cx="419.8" cy="117.0" r="1.9" fill="url(#gr)"/>
<circle cx="405.0" cy="126.8" r="1.9" fill="url(#gr)"/>
<circle cx="484.0" cy="32.5" r="1.9" fill="url(#gb)"/>
<circle cx="477.5" cy="40.0" r="1.9" fill="url(#gb)"/>
<circle cx="483.5" cy="42.2" r="1.9" fill="url(#gb)"/>
<circle cx="467.3" cy="43.8" r="1.9" fill="url(#gb)"/>
<circle cx="475.8" cy="45.8" r="1.9" fill="url(#gb)"/>
<circle cx="470.0" cy="49.3" r="1.9" fill="url(#gb)"/>
<circle cx="480.0" cy="51.2" r="1.9" fill="url(#gb)"/>
<circle cx="503.5" cy="54.0" r="1.9" fill="url(#gb)"/>
<circle cx="461.5" cy="56.5" r="1.9" fill="url(#gb)"/>
<circle cx="464.0" cy="61.2" r="1.9" fill="url(#gb)"/>
<circle cx="471.2" cy="63.0" r="1.9" fill="url(#gb)"/>
<circle cx="485.0" cy="64.5" r="1.9" fill="url(#gb)"/>
<circle cx="485.2" cy="66.5" r="1.9" fill="url(#gb)"/>
<circle cx="496.8" cy="61.2" r="1.9" fill="url(#gb)"/>
<circle cx="482.5" cy="70.2" r="1.9" fill="url(#gb)"/>
<circle cx="485.5" cy="72.0" r="1.9" fill="url(#gb)"/>
<circle cx="475.0" cy="76.8" r="1.9" fill="url(#gb)"/>
<circle cx="476.5" cy="77.2" r="1.9" fill="url(#gb)"/>
<circle cx="468.5" cy="85.0" r="1.9" fill="url(#gb)"/>
<circle cx="471.5" cy="85.5" r="1.9" fill="url(#gb)"/>
<circle cx="458.5" cy="91.0" r="1.9" fill="url(#gb)"/>
<circle cx="465.0" cy="94.8" r="1.9" fill="url(#gb)"/>
<circle cx="466.0" cy="98.5" r="1.9" fill="url(#gb)"/>
<circle cx="494.5" cy="93.8" r="1.9" fill="url(#gb)"/>
<circle cx="496.5" cy="93.8" r="1.9" fill="url(#gb)"/>
<circle cx="503.8" cy="93.8" r="1.9" fill="url(#gb)"/>
<circle cx="497.2" cy="99.0" r="1.9" fill="url(#gb)"/>
<circle cx="501.2" cy="104.5" r="1.9" fill="url(#gr)"/>
<circle cx="462.8" cy="115.2" r="1.9" fill="url(#gr)"/>
<circle cx="509.0" cy="80.2" r="1.9" fill="url(#gb)"/>
<circle cx="312.0" cy="118.0" r="1.9" fill="url(#gr)"/>
<circle cx="318.0" cy="116.0" r="1.9" fill="url(#gr)"/>
<circle cx="322.0" cy="121.0" r="1.9" fill="url(#gr)"/>
<circle cx="316.0" cy="125.0" r="1.9" fill="url(#gr)"/>
<circle cx="326.0" cy="126.0" r="1.9" fill="url(#gr)"/>
<circle cx="332.0" cy="120.0" r="1.9" fill="url(#gr)"/>
<circle cx="336.0" cy="124.0" r="1.9" fill="url(#gr)"/>
<circle cx="340.0" cy="118.0" r="1.9" fill="url(#gr)"/>
<circle cx="330.0" cy="131.0" r="1.9" fill="url(#gr)"/>
<circle cx="322.0" cy="134.0" r="1.9" fill="url(#gr)"/>
<circle cx="314.0" cy="133.0" r="1.9" fill="url(#gr)"/>
<circle cx="308.0" cy="128.0" r="1.9" fill="url(#gr)"/>
<circle cx="53.2" cy="246.0" r="1.9" fill="url(#gr)"/>
<circle cx="63.2" cy="249.8" r="1.9" fill="url(#gr)"/>
<circle cx="81.0" cy="254.0" r="1.9" fill="url(#gr)"/>
<circle cx="83.0" cy="258.5" r="1.9" fill="url(#gr)"/>
<circle cx="66.2" cy="263.5" r="1.9" fill="url(#gb)"/>
<circle cx="58.0" cy="266.0" r="1.9" fill="url(#gr)"/>
<circle cx="57.5" cy="272.2" r="1.9" fill="url(#gr)"/>
<circle cx="50.5" cy="274.2" r="1.9" fill="url(#gr)"/>
<circle cx="53.5" cy="274.2" r="1.9" fill="url(#gr)"/>
<circle cx="63.5" cy="274.5" r="1.9" fill="url(#gr)"/>
<circle cx="65.0" cy="275.8" r="1.9" fill="url(#gr)"/>
<circle cx="74.5" cy="274.5" r="1.9" fill="url(#gr)"/>
<circle cx="76.0" cy="276.0" r="1.9" fill="url(#gr)"/>
<circle cx="81.0" cy="272.2" r="1.9" fill="url(#gb)"/>
<circle cx="84.5" cy="272.2" r="1.9" fill="url(#gr)"/>
<circle cx="85.0" cy="276.0" r="1.9" fill="url(#gb)"/>
<circle cx="47.0" cy="279.0" r="1.9" fill="url(#gr)"/>
<circle cx="53.5" cy="278.5" r="1.9" fill="url(#gr)"/>
<circle cx="62.5" cy="280.0" r="1.9" fill="url(#gr)"/>
<circle cx="75.0" cy="280.0" r="1.9" fill="url(#gr)"/>
<circle cx="42.5" cy="281.5" r="1.9" fill="url(#gr)"/>
<circle cx="67.0" cy="282.5" r="1.9" fill="url(#gr)"/>
<circle cx="60.5" cy="284.2" r="1.9" fill="url(#gr)"/>
<circle cx="71.0" cy="284.5" r="1.9" fill="url(#gr)"/>
<circle cx="78.5" cy="284.5" r="1.9" fill="url(#gr)"/>
<circle cx="83.5" cy="287.0" r="1.9" fill="url(#gr)"/>
<circle cx="56.5" cy="287.5" r="1.9" fill="url(#gr)"/>
<circle cx="38.5" cy="290.0" r="1.9" fill="url(#gr)"/>
<circle cx="50.0" cy="291.0" r="1.9" fill="url(#gr)"/>
<circle cx="54.5" cy="291.0" r="1.9" fill="url(#gr)"/>
<circle cx="45.0" cy="292.0" r="1.9" fill="url(#gb)"/>
<circle cx="67.0" cy="288.0" r="1.9" fill="url(#gr)"/>
<circle cx="64.0" cy="291.0" r="1.9" fill="url(#gr)"/>
<circle cx="75.0" cy="289.0" r="1.9" fill="url(#gr)"/>
<circle cx="77.0" cy="292.0" r="1.9" fill="url(#gr)"/>
<circle cx="72.0" cy="291.0" r="1.9" fill="url(#gb)"/>
<circle cx="69.0" cy="293.0" r="1.9" fill="url(#gb)"/>
<circle cx="81.0" cy="291.0" r="1.9" fill="url(#gb)"/>
<circle cx="85.0" cy="290.0" r="1.9" fill="url(#gr)"/>
<circle cx="43.5" cy="296.0" r="1.9" fill="url(#gr)"/>
<circle cx="47.0" cy="295.0" r="1.9" fill="url(#gr)"/>
<circle cx="51.5" cy="295.5" r="1.9" fill="url(#gb)"/>
<circle cx="56.0" cy="295.5" r="1.9" fill="url(#gr)"/>
<circle cx="60.0" cy="297.0" r="1.9" fill="url(#gb)"/>
<circle cx="63.0" cy="294.5" r="1.9" fill="url(#gr)"/>
<circle cx="66.0" cy="296.0" r="1.9" fill="url(#gr)"/>
<circle cx="73.5" cy="296.0" r="1.9" fill="url(#gb)"/>
<circle cx="77.0" cy="295.5" r="1.9" fill="url(#gr)"/>
<circle cx="80.0" cy="294.5" r="1.9" fill="url(#gb)"/>
<circle cx="84.0" cy="295.0" r="1.9" fill="url(#gr)"/>
<circle cx="41.0" cy="300.5" r="1.9" fill="url(#gr)"/>
<circle cx="45.0" cy="299.5" r="1.9" fill="url(#gr)"/>
<circle cx="49.0" cy="299.5" r="1.9" fill="url(#gr)"/>
<circle cx="52.5" cy="300.5" r="1.9" fill="url(#gr)"/>
<circle cx="56.0" cy="299.0" r="1.9" fill="url(#gr)"/>
<circle cx="59.0" cy="301.0" r="1.9" fill="url(#gb)"/>
<circle cx="62.0" cy="300.0" r="1.9" fill="url(#gr)"/>
<circle cx="66.0" cy="299.0" r="1.9" fill="url(#gb)"/>
<circle cx="69.0" cy="300.5" r="1.9" fill="url(#gr)"/>
<circle cx="73.0" cy="299.5" r="1.9" fill="url(#gb)"/>
<circle cx="76.0" cy="299.0" r="1.9" fill="url(#gb)"/>
<circle cx="80.0" cy="298.5" r="1.9" fill="url(#gr)"/>
<circle cx="83.0" cy="300.5" r="1.9" fill="url(#gb)"/>
<circle cx="85.0" cy="298.0" r="1.9" fill="url(#gr)"/>
<circle cx="42.0" cy="304.0" r="1.9" fill="url(#gr)"/>
<circle cx="47.0" cy="303.5" r="1.9" fill="url(#gr)"/>
<circle cx="51.5" cy="304.5" r="1.9" fill="url(#gr)"/>
<circle cx="55.5" cy="303.0" r="1.9" fill="url(#gr)"/>
<circle cx="59.0" cy="304.5" r="1.9" fill="url(#gr)"/>
<circle cx="64.0" cy="303.5" r="1.9" fill="url(#gr)"/>
<circle cx="68.0" cy="304.5" r="1.9" fill="url(#gb)"/>
<circle cx="72.0" cy="304.0" r="1.9" fill="url(#gr)"/>
<circle cx="75.5" cy="303.5" r="1.9" fill="url(#gb)"/>
<circle cx="78.0" cy="302.5" r="1.9" fill="url(#gr)"/>
<circle cx="82.0" cy="304.5" r="1.9" fill="url(#gb)"/>
<circle cx="85.0" cy="303.0" r="1.9" fill="url(#gr)"/>
<circle cx="39.0" cy="308.0" r="1.9" fill="url(#gr)"/>
<circle cx="43.5" cy="308.0" r="1.9" fill="url(#gr)"/>
<circle cx="48.0" cy="308.0" r="1.9" fill="url(#gr)"/>
<circle cx="52.0" cy="307.5" r="1.9" fill="url(#gr)"/>
<circle cx="57.0" cy="307.0" r="1.9" fill="url(#gr)"/>
<circle cx="61.0" cy="308.0" r="1.9" fill="url(#gb)"/>
<circle cx="65.0" cy="307.0" r="1.9" fill="url(#gr)"/>
<circle cx="69.0" cy="308.0" r="1.9" fill="url(#gr)"/>
<circle cx="73.0" cy="308.0" r="1.9" fill="url(#gb)"/>
<circle cx="77.0" cy="307.5" r="1.9" fill="url(#gb)"/>
<circle cx="81.0" cy="308.0" r="1.9" fill="url(#gr)"/>
<circle cx="84.0" cy="309.0" r="1.9" fill="url(#gr)"/>
<circle cx="41.0" cy="311.5" r="1.9" fill="url(#gr)"/>
<circle cx="46.0" cy="311.5" r="1.9" fill="url(#gb)"/>
<circle cx="50.0" cy="312.0" r="1.9" fill="url(#gr)"/>
<circle cx="54.0" cy="311.0" r="1.9" fill="url(#gr)"/>
<circle cx="59.0" cy="312.0" r="1.9" fill="url(#gr)"/>
<circle cx="63.0" cy="311.5" r="1.9" fill="url(#gr)"/>
<circle cx="67.0" cy="312.0" r="1.9" fill="url(#gb)"/>
<circle cx="72.0" cy="312.0" r="1.9" fill="url(#gr)"/>
<circle cx="76.0" cy="311.0" r="1.9" fill="url(#gb)"/>
<circle cx="80.0" cy="312.0" r="1.9" fill="url(#gb)"/>
<circle cx="85.0" cy="312.0" r="1.9" fill="url(#gr)"/>
<circle cx="57.5" cy="314.5" r="1.9" fill="url(#gb)"/>
<circle cx="64.0" cy="314.5" r="1.9" fill="url(#gb)"/>
<circle cx="81.0" cy="317.5" r="1.9" fill="url(#gb)"/>
<circle cx="78.5" cy="318.0" r="1.9" fill="url(#gb)"/>
<circle cx="74.0" cy="318.5" r="1.9" fill="url(#gb)"/>
<circle cx="73.5" cy="322.5" r="1.9" fill="url(#gb)"/>
<circle cx="43.0" cy="320.0" r="1.9" fill="url(#gb)"/>
<circle cx="44.0" cy="323.0" r="1.9" fill="url(#gb)"/>
<circle cx="58.0" cy="321.0" r="1.9" fill="url(#gb)"/>
<circle cx="61.0" cy="320.0" r="1.9" fill="url(#gb)"/>
<circle cx="48.5" cy="326.5" r="1.9" fill="url(#gb)"/>
<circle cx="52.5" cy="326.0" r="1.9" fill="url(#gb)"/>
<circle cx="58.5" cy="329.0" r="1.9" fill="url(#gb)"/>
<circle cx="60.5" cy="328.0" r="1.9" fill="url(#gb)"/>
<circle cx="64.0" cy="326.2" r="1.9" fill="url(#gb)"/>
<circle cx="43.5" cy="330.5" r="1.9" fill="url(#gb)"/>
<circle cx="84.5" cy="326.5" r="1.9" fill="url(#gb)"/>
<circle cx="92.8" cy="220.0" r="1.9" fill="url(#gr)"/>
<circle cx="93.5" cy="241.0" r="1.9" fill="url(#gr)"/>
<circle cx="98.5" cy="241.0" r="1.9" fill="url(#gr)"/>
<circle cx="123.0" cy="251.0" r="1.9" fill="url(#gr)"/>
<circle cx="95.0" cy="254.2" r="1.9" fill="url(#gr)"/>
<circle cx="113.8" cy="253.5" r="1.9" fill="url(#gr)"/>
<circle cx="109.5" cy="259.8" r="1.9" fill="url(#gr)"/>
<circle cx="125.0" cy="262.0" r="1.9" fill="url(#gr)"/>
<circle cx="130.5" cy="265.5" r="1.9" fill="url(#gr)"/>
<circle cx="135.5" cy="268.5" r="1.9" fill="url(#gr)"/>
<circle cx="110.5" cy="267.0" r="1.9" fill="url(#gr)"/>
<circle cx="114.5" cy="267.5" r="1.9" fill="url(#gb)"/>
<circle cx="117.5" cy="267.5" r="1.9" fill="url(#gb)"/>
<circle cx="118.5" cy="269.5" r="1.9" fill="url(#gb)"/>
<circle cx="88.5" cy="269.2" r="1.9" fill="url(#gr)"/>
<circle cx="98.5" cy="272.5" r="1.9" fill="url(#gb)"/>
<circle cx="130.5" cy="271.5" r="1.9" fill="url(#gb)"/>
<circle cx="117.0" cy="272.8" r="1.9" fill="url(#gr)"/>
<circle cx="115.5" cy="275.0" r="1.9" fill="url(#gr)"/>
<circle cx="106.0" cy="275.0" r="1.9" fill="url(#gr)"/>
<circle cx="94.5" cy="276.0" r="1.9" fill="url(#gr)"/>
<circle cx="102.0" cy="276.0" r="1.9" fill="url(#gb)"/>
<circle cx="89.5" cy="278.0" r="1.9" fill="url(#gr)"/>
<circle cx="94.5" cy="279.0" r="1.9" fill="url(#gr)"/>
<circle cx="101.0" cy="279.0" r="1.9" fill="url(#gr)"/>
<circle cx="107.5" cy="278.0" r="1.9" fill="url(#gr)"/>
<circle cx="111.5" cy="279.5" r="1.9" fill="url(#gr)"/>
<circle cx="116.0" cy="281.0" r="1.9" fill="url(#gb)"/>
<circle cx="102.0" cy="281.0" r="1.9" fill="url(#gr)"/>
<circle cx="108.0" cy="283.0" r="1.9" fill="url(#gr)"/>
<circle cx="105.0" cy="285.0" r="1.9" fill="url(#gr)"/>
<circle cx="132.5" cy="283.2" r="1.9" fill="url(#gb)"/>
<circle cx="87.0" cy="285.5" r="1.9" fill="url(#gr)"/>
<circle cx="92.0" cy="286.5" r="1.9" fill="url(#gr)"/>
<circle cx="94.5" cy="288.0" r="1.9" fill="url(#gr)"/>
<circle cx="101.5" cy="288.5" r="1.9" fill="url(#gb)"/>
<circle cx="101.5" cy="290.5" r="1.9" fill="url(#gr)"/>
<circle cx="106.0" cy="289.0" r="1.9" fill="url(#gb)"/>
<circle cx="109.0" cy="290.0" r="1.9" fill="url(#gb)"/>
<circle cx="114.0" cy="287.5" r="1.9" fill="url(#gr)"/>
<circle cx="117.0" cy="288.0" r="1.9" fill="url(#gr)"/>
<circle cx="120.0" cy="288.0" r="1.9" fill="url(#gr)"/>
<circle cx="126.0" cy="290.8" r="1.9" fill="url(#gr)"/>
<circle cx="88.0" cy="291.0" r="1.9" fill="url(#gb)"/>
<circle cx="90.0" cy="290.5" r="1.9" fill="url(#gb)"/>
<circle cx="92.5" cy="291.0" r="1.9" fill="url(#gb)"/>
<circle cx="95.0" cy="291.0" r="1.9" fill="url(#gr)"/>
<circle cx="91.0" cy="294.0" r="1.9" fill="url(#gb)"/>
<circle cx="112.0" cy="293.0" r="1.9" fill="url(#gr)"/>
<circle cx="116.0" cy="291.5" r="1.9" fill="url(#gb)"/>
<circle cx="119.5" cy="292.0" r="1.9" fill="url(#gb)"/>
<circle cx="120.0" cy="295.5" r="1.9" fill="url(#gr)"/>
<circle cx="123.5" cy="295.0" r="1.9" fill="url(#gr)"/>
<circle cx="86.0" cy="293.5" r="1.9" fill="url(#gr)"/>
<circle cx="99.0" cy="296.5" r="1.9" fill="url(#gb)"/>
<circle cx="102.5" cy="297.0" r="1.9" fill="url(#gr)"/>
<circle cx="111.5" cy="296.5" r="1.9" fill="url(#gr)"/>
<circle cx="116.0" cy="298.0" r="1.9" fill="url(#gb)"/>
<circle cx="127.0" cy="298.0" r="1.9" fill="url(#gb)"/>
<circle cx="135.0" cy="296.5" r="1.9" fill="url(#gb)"/>
<circle cx="92.5" cy="299.0" r="1.9" fill="url(#gr)"/>
<circle cx="96.0" cy="299.0" r="1.9" fill="url(#gb)"/>
<circle cx="106.0" cy="299.5" r="1.9" fill="url(#gb)"/>
<circle cx="109.5" cy="300.5" r="1.9" fill="url(#gr)"/>
<circle cx="87.0" cy="300.5" r="1.9" fill="url(#gb)"/>
<circle cx="98.0" cy="302.0" r="1.9" fill="url(#gb)"/>
<circle cx="103.0" cy="302.0" r="1.9" fill="url(#gr)"/>
<circle cx="105.5" cy="304.0" r="1.9" fill="url(#gb)"/>
<circle cx="111.5" cy="303.0" r="1.9" fill="url(#gr)"/>
<circle cx="118.0" cy="302.0" r="1.9" fill="url(#gr)"/>
<circle cx="125.0" cy="302.0" r="1.9" fill="url(#gb)"/>
<circle cx="134.5" cy="302.5" r="1.9" fill="url(#gb)"/>
<circle cx="90.0" cy="305.5" r="1.9" fill="url(#gb)"/>
<circle cx="94.0" cy="306.5" r="1.9" fill="url(#gr)"/>
<circle cx="100.0" cy="305.0" r="1.9" fill="url(#gr)"/>
<circle cx="105.0" cy="305.5" r="1.9" fill="url(#gb)"/>
<circle cx="107.5" cy="307.5" r="1.9" fill="url(#gr)"/>
<circle cx="111.5" cy="306.5" r="1.9" fill="url(#gb)"/>
<circle cx="114.5" cy="307.0" r="1.9" fill="url(#gr)"/>
<circle cx="119.0" cy="306.5" r="1.9" fill="url(#gb)"/>
<circle cx="125.5" cy="307.0" r="1.9" fill="url(#gb)"/>
<circle cx="130.0" cy="308.0" r="1.9" fill="url(#gb)"/>
<circle cx="134.0" cy="309.0" r="1.9" fill="url(#gr)"/>
<circle cx="87.0" cy="311.0" r="1.9" fill="url(#gb)"/>
<circle cx="103.5" cy="311.5" r="1.9" fill="url(#gb)"/>
<circle cx="112.5" cy="310.5" r="1.9" fill="url(#gb)"/>
<circle cx="122.0" cy="311.0" r="1.9" fill="url(#gb)"/>
<circle cx="126.0" cy="311.0" r="1.9" fill="url(#gr)"/>
<circle cx="130.0" cy="312.0" r="1.9" fill="url(#gb)"/>
<circle cx="96.0" cy="313.5" r="1.9" fill="url(#gr)"/>
<circle cx="96.0" cy="315.0" r="1.9" fill="url(#gr)"/>
<circle cx="95.0" cy="318.0" r="1.9" fill="url(#gb)"/>
<circle cx="101.5" cy="318.5" r="1.9" fill="url(#gb)"/>
<circle cx="104.5" cy="316.5" r="1.9" fill="url(#gb)"/>
<circle cx="107.0" cy="315.5" r="1.9" fill="url(#gb)"/>
<circle cx="117.5" cy="317.0" r="1.9" fill="url(#gb)"/>
<circle cx="124.0" cy="315.5" r="1.9" fill="url(#gb)"/>
<circle cx="115.0" cy="320.5" r="1.9" fill="url(#gb)"/>
<circle cx="122.5" cy="319.8" r="1.9" fill="url(#gb)"/>
<circle cx="130.5" cy="319.5" r="1.9" fill="url(#gb)"/>
<circle cx="129.0" cy="323.0" r="1.9" fill="url(#gb)"/>
<circle cx="137.0" cy="317.0" r="1.9" fill="url(#gb)"/>
<circle cx="137.0" cy="322.5" r="1.9" fill="url(#gb)"/>
<circle cx="96.5" cy="324.5" r="1.9" fill="url(#gb)"/>
<circle cx="86.5" cy="326.5" r="1.9" fill="url(#gb)"/>
<circle cx="90.8" cy="330.3" r="1.9" fill="url(#gb)"/>
<circle cx="103.0" cy="330.0" r="1.9" fill="url(#gb)"/>
<circle cx="110.5" cy="329.2" r="1.9" fill="url(#gb)"/>
<circle cx="130.5" cy="329.5" r="1.9" fill="url(#gb)"/>
<circle cx="134.5" cy="327.5" r="1.9" fill="url(#gb)"/>
<circle cx="137.0" cy="327.0" r="1.9" fill="url(#gb)"/>
<circle cx="149.2" cy="270.0" r="1.9" fill="url(#gb)"/>
<circle cx="164.5" cy="285.2" r="1.9" fill="url(#gb)"/>
<circle cx="149.8" cy="287.8" r="1.9" fill="url(#gb)"/>
<circle cx="139.5" cy="290.0" r="1.9" fill="url(#gb)"/>
<circle cx="144.8" cy="291.5" r="1.9" fill="url(#gb)"/>
<circle cx="153.5" cy="293.8" r="1.9" fill="url(#gr)"/>
<circle cx="158.5" cy="292.0" r="1.9" fill="url(#gb)"/>
<circle cx="162.0" cy="292.0" r="1.9" fill="url(#gb)"/>
<circle cx="159.0" cy="297.5" r="1.9" fill="url(#gb)"/>
<circle cx="171.2" cy="295.0" r="1.9" fill="url(#gb)"/>
<circle cx="182.0" cy="297.0" r="1.9" fill="url(#gb)"/>
<circle cx="179.5" cy="299.5" r="1.9" fill="url(#gr)"/>
<circle cx="187.0" cy="296.5" r="1.9" fill="url(#gb)"/>
<circle cx="188.5" cy="290.0" r="1.9" fill="url(#gb)"/>
<circle cx="140.0" cy="298.5" r="1.9" fill="url(#gb)"/>
<circle cx="141.5" cy="299.5" r="1.9" fill="url(#gr)"/>
<circle cx="148.0" cy="300.5" r="1.9" fill="url(#gb)"/>
<circle cx="161.0" cy="302.5" r="1.9" fill="url(#gb)"/>
<circle cx="160.5" cy="304.0" r="1.9" fill="url(#gb)"/>
<circle cx="169.0" cy="302.2" r="1.9" fill="url(#gr)"/>
<circle cx="152.8" cy="305.2" r="1.9" fill="url(#gb)"/>
<circle cx="139.0" cy="307.2" r="1.9" fill="url(#gr)"/>
<circle cx="189.0" cy="304.0" r="1.9" fill="url(#gb)"/>
<circle cx="189.0" cy="306.5" r="1.9" fill="url(#gb)"/>
<circle cx="166.0" cy="309.0" r="1.9" fill="url(#gb)"/>
<circle cx="173.0" cy="310.5" r="1.9" fill="url(#gb)"/>
<circle cx="183.8" cy="309.8" r="1.9" fill="url(#gb)"/>
<circle cx="161.0" cy="313.0" r="1.9" fill="url(#gb)"/>
<circle cx="153.5" cy="313.5" r="1.9" fill="url(#gb)"/>
<circle cx="171.0" cy="313.0" r="1.9" fill="url(#gb)"/>
<circle cx="182.0" cy="313.5" r="1.9" fill="url(#gb)"/>
<circle cx="147.5" cy="318.0" r="1.9" fill="url(#gb)"/>
<circle cx="150.0" cy="315.5" r="1.9" fill="url(#gb)"/>
<circle cx="156.0" cy="317.0" r="1.9" fill="url(#gb)"/>
<circle cx="156.5" cy="320.5" r="1.9" fill="url(#gb)"/>
<circle cx="157.5" cy="323.0" r="1.9" fill="url(#gb)"/>
<circle cx="151.0" cy="322.5" r="1.9" fill="url(#gb)"/>
<circle cx="151.5" cy="326.0" r="1.9" fill="url(#gb)"/>
<circle cx="163.0" cy="314.0" r="1.9" fill="url(#gb)"/>
<circle cx="164.0" cy="319.5" r="1.9" fill="url(#gb)"/>
<circle cx="163.0" cy="322.5" r="1.9" fill="url(#gb)"/>
<circle cx="167.0" cy="323.0" r="1.9" fill="url(#gb)"/>
<circle cx="170.0" cy="323.5" r="1.9" fill="url(#gb)"/>
<circle cx="171.5" cy="326.0" r="1.9" fill="url(#gb)"/>
<circle cx="173.5" cy="320.5" r="1.9" fill="url(#gb)"/>
<circle cx="178.5" cy="316.5" r="1.9" fill="url(#gb)"/>
<circle cx="180.0" cy="321.8" r="1.9" fill="url(#gb)"/>
<circle cx="183.0" cy="317.5" r="1.9" fill="url(#gb)"/>
<circle cx="186.0" cy="317.5" r="1.9" fill="url(#gb)"/>
<circle cx="188.5" cy="320.0" r="1.9" fill="url(#gb)"/>
<circle cx="183.5" cy="331.2" r="1.9" fill="url(#gb)"/>
<circle cx="183.5" cy="336.2" r="1.9" fill="url(#gb)"/>
<circle cx="237.8" cy="247.2" r="1.9" fill="url(#gb)"/>
<circle cx="196.8" cy="286.0" r="1.9" fill="url(#gr)"/>
<circle cx="192.5" cy="303.5" r="1.9" fill="url(#gb)"/>
<circle cx="200.0" cy="305.5" r="1.9" fill="url(#gb)"/>
<circle cx="210.5" cy="303.5" r="1.9" fill="url(#gb)"/>
<circle cx="209.0" cy="306.0" r="1.9" fill="url(#gb)"/>
<circle cx="219.0" cy="307.5" r="1.9" fill="url(#gb)"/>
<circle cx="228.5" cy="303.8" r="1.9" fill="url(#gb)"/>
<circle cx="237.5" cy="303.5" r="1.9" fill="url(#gb)"/>
<circle cx="235.0" cy="308.5" r="1.9" fill="url(#gr)"/>
<circle cx="195.5" cy="311.5" r="1.9" fill="url(#gb)"/>
<circle cx="201.0" cy="313.0" r="1.9" fill="url(#gb)"/>
<circle cx="211.0" cy="313.8" r="1.9" fill="url(#gb)"/>
<circle cx="231.0" cy="313.8" r="1.9" fill="url(#gb)"/>
<circle cx="204.0" cy="316.5" r="1.9" fill="url(#gb)"/>
<circle cx="211.0" cy="314.5" r="1.9" fill="url(#gb)"/>
<circle cx="217.0" cy="315.0" r="1.9" fill="url(#gb)"/>
<circle cx="230.5" cy="314.5" r="1.9" fill="url(#gb)"/>
<circle cx="231.0" cy="316.5" r="1.9" fill="url(#gb)"/>
<circle cx="194.0" cy="319.2" r="1.9" fill="url(#gb)"/>
<circle cx="198.0" cy="319.5" r="1.9" fill="url(#gb)"/>
<circle cx="199.5" cy="318.5" r="1.9" fill="url(#gb)"/>
<circle cx="190.5" cy="320.5" r="1.9" fill="url(#gb)"/>
<circle cx="209.5" cy="324.8" r="1.9" fill="url(#gb)"/>
<circle cx="217.5" cy="323.0" r="1.9" fill="url(#gb)"/>
<circle cx="219.5" cy="322.2" r="1.9" fill="url(#gb)"/>
<circle cx="217.5" cy="327.5" r="1.9" fill="url(#gb)"/>
<circle cx="213.8" cy="329.8" r="1.9" fill="url(#gb)"/>
<circle cx="205.5" cy="328.0" r="1.9" fill="url(#gb)"/>
<circle cx="202.5" cy="330.2" r="1.9" fill="url(#gb)"/>
<circle cx="229.8" cy="327.8" r="1.9" fill="url(#gb)"/>
<circle cx="235.5" cy="326.2" r="1.9" fill="url(#gb)"/>
<circle cx="243.0" cy="333.5" r="1.9" fill="url(#gb)"/>
<circle cx="40.0" cy="303.0" r="1.9" fill="url(#gr)"/>
<circle cx="44.0" cy="299.0" r="1.9" fill="url(#gr)"/>
<circle cx="48.0" cy="305.0" r="1.9" fill="url(#gr)"/>
<circle cx="52.0" cy="300.0" r="1.9" fill="url(#gr)"/>
<circle cx="56.0" cy="307.0" r="1.9" fill="url(#gr)"/>
<circle cx="60.0" cy="302.0" r="1.9" fill="url(#gr)"/>
<circle cx="64.0" cy="308.0" r="1.9" fill="url(#gr)"/>
<circle cx="43.0" cy="309.0" r="1.9" fill="url(#gr)"/>
<circle cx="51.0" cy="311.0" r="1.9" fill="url(#gr)"/>
<circle cx="59.0" cy="311.0" r="1.9" fill="url(#gr)"/>
<circle cx="67.0" cy="299.0" r="1.9" fill="url(#gr)"/>
<circle cx="335.4" cy="239.6" r="1.9" fill="url(#gr)"/>
<circle cx="316.6" cy="262.8" r="1.9" fill="url(#gr)"/>
<circle cx="358.0" cy="276.0" r="1.9" fill="url(#gr)"/>
<circle cx="403.6" cy="229.4" r="1.9" fill="url(#gb)"/>
<circle cx="414.0" cy="282.4" r="1.9" fill="url(#gb)"/>
<circle cx="341.5" cy="299.0" r="1.9" fill="url(#gr)"/>
<circle cx="339.8" cy="306.0" r="1.9" fill="url(#gb)"/>
<circle cx="344.0" cy="310.0" r="1.9" fill="url(#gr)"/>
<circle cx="334.5" cy="313.5" r="1.9" fill="url(#gr)"/>
<circle cx="339.0" cy="315.5" r="1.9" fill="url(#gr)"/>
<circle cx="309.5" cy="314.5" r="1.9" fill="url(#gb)"/>
<circle cx="318.5" cy="313.0" r="1.9" fill="url(#gb)"/>
<circle cx="310.5" cy="318.0" r="1.9" fill="url(#gr)"/>
<circle cx="307.5" cy="320.5" r="1.9" fill="url(#gr)"/>
<circle cx="315.0" cy="320.0" r="1.9" fill="url(#gr)"/>
<circle cx="318.0" cy="318.0" r="1.9" fill="url(#gr)"/>
<circle cx="321.5" cy="320.5" r="1.9" fill="url(#gr)"/>
<circle cx="335.0" cy="319.0" r="1.9" fill="url(#gb)"/>
<circle cx="338.0" cy="321.0" r="1.9" fill="url(#gb)"/>
<circle cx="340.0" cy="319.0" r="1.9" fill="url(#gr)"/>
<circle cx="343.0" cy="320.5" r="1.9" fill="url(#gr)"/>
<circle cx="351.0" cy="319.5" r="1.9" fill="url(#gb)"/>
<circle cx="333.0" cy="321.0" r="1.9" fill="url(#gr)"/>
<circle cx="304.0" cy="323.2" r="1.9" fill="url(#gr)"/>
<circle cx="310.0" cy="324.5" r="1.9" fill="url(#gb)"/>
<circle cx="311.5" cy="323.5" r="1.9" fill="url(#gb)"/>
<circle cx="319.0" cy="323.0" r="1.9" fill="url(#gr)"/>
<circle cx="345.5" cy="322.5" r="1.9" fill="url(#gb)"/>
<circle cx="308.0" cy="330.0" r="1.9" fill="url(#gr)"/>
<circle cx="313.0" cy="331.0" r="1.9" fill="url(#gb)"/>
<circle cx="316.0" cy="328.5" r="1.9" fill="url(#gr)"/>
<circle cx="320.0" cy="328.0" r="1.9" fill="url(#gr)"/>
<circle cx="324.0" cy="326.0" r="1.9" fill="url(#gr)"/>
<circle cx="329.0" cy="324.0" r="1.9" fill="url(#gr)"/>
<circle cx="329.5" cy="327.5" r="1.9" fill="url(#gr)"/>
<circle cx="326.0" cy="329.5" r="1.9" fill="url(#gr)"/>
<circle cx="322.0" cy="331.0" r="1.9" fill="url(#gr)"/>
<circle cx="318.0" cy="332.0" r="1.9" fill="url(#gr)"/>
<circle cx="311.0" cy="334.0" r="1.9" fill="url(#gr)"/>
<circle cx="309.0" cy="336.5" r="1.9" fill="url(#gb)"/>
<circle cx="314.0" cy="337.5" r="1.9" fill="url(#gb)"/>
<circle cx="309.5" cy="340.0" r="1.9" fill="url(#gr)"/>
<circle cx="317.0" cy="335.5" r="1.9" fill="url(#gb)"/>
<circle cx="320.5" cy="334.5" r="1.9" fill="url(#gr)"/>
<circle cx="324.0" cy="333.5" r="1.9" fill="url(#gr)"/>
<circle cx="326.5" cy="332.5" r="1.9" fill="url(#gb)"/>
<circle cx="330.0" cy="332.0" r="1.9" fill="url(#gr)"/>
<circle cx="333.0" cy="330.0" r="1.9" fill="url(#gr)"/>
<circle cx="337.0" cy="327.5" r="1.9" fill="url(#gr)"/>
<circle cx="340.0" cy="331.0" r="1.9" fill="url(#gr)"/>
<circle cx="344.0" cy="328.0" r="1.9" fill="url(#gr)"/>
<circle cx="348.0" cy="330.0" r="1.9" fill="url(#gr)"/>
<circle cx="351.0" cy="332.0" r="1.9" fill="url(#gb)"/>
<circle cx="326.0" cy="336.0" r="1.9" fill="url(#gb)"/>
<circle cx="330.0" cy="335.0" r="1.9" fill="url(#gb)"/>
<circle cx="333.0" cy="334.5" r="1.9" fill="url(#gr)"/>
<circle cx="336.0" cy="333.5" r="1.9" fill="url(#gr)"/>
<circle cx="339.0" cy="335.0" r="1.9" fill="url(#gb)"/>
<circle cx="342.0" cy="335.5" r="1.9" fill="url(#gr)"/>
<circle cx="346.0" cy="334.5" r="1.9" fill="url(#gb)"/>
<circle cx="349.0" cy="336.0" r="1.9" fill="url(#gb)"/>
<circle cx="320.0" cy="339.0" r="1.9" fill="url(#gr)"/>
<circle cx="324.0" cy="338.0" r="1.9" fill="url(#gb)"/>
<circle cx="328.0" cy="337.5" r="1.9" fill="url(#gb)"/>
<circle cx="332.0" cy="338.5" r="1.9" fill="url(#gr)"/>
<circle cx="337.0" cy="337.5" r="1.9" fill="url(#gb)"/>
<circle cx="341.0" cy="339.0" r="1.9" fill="url(#gb)"/>
<circle cx="344.0" cy="338.0" r="1.9" fill="url(#gr)"/>
<circle cx="347.0" cy="339.0" r="1.9" fill="url(#gb)"/>
<circle cx="351.0" cy="338.0" r="1.9" fill="url(#gr)"/>
<circle cx="318.5" cy="341.5" r="1.9" fill="url(#gr)"/>
<circle cx="324.0" cy="343.0" r="1.9" fill="url(#gb)"/>
<circle cx="327.0" cy="340.5" r="1.9" fill="url(#gb)"/>
<circle cx="330.0" cy="342.5" r="1.9" fill="url(#gb)"/>
<circle cx="334.0" cy="341.0" r="1.9" fill="url(#gr)"/>
<circle cx="339.0" cy="341.5" r="1.9" fill="url(#gb)"/>
<circle cx="341.0" cy="344.0" r="1.9" fill="url(#gr)"/>
<circle cx="344.0" cy="341.5" r="1.9" fill="url(#gb)"/>
<circle cx="349.0" cy="342.5" r="1.9" fill="url(#gr)"/>
<circle cx="337.0" cy="342.5" r="1.9" fill="url(#gr)"/>
<circle cx="380.5" cy="298.0" r="1.9" fill="url(#gr)"/>
<circle cx="389.5" cy="297.2" r="1.9" fill="url(#gr)"/>
<circle cx="357.0" cy="306.5" r="1.9" fill="url(#gb)"/>
<circle cx="353.5" cy="311.0" r="1.9" fill="url(#gr)"/>
<circle cx="376.5" cy="308.2" r="1.9" fill="url(#gr)"/>
<circle cx="386.0" cy="312.5" r="1.9" fill="url(#gr)"/>
<circle cx="400.5" cy="309.0" r="1.9" fill="url(#gr)"/>
<circle cx="355.5" cy="323.0" r="1.9" fill="url(#gr)"/>
<circle cx="361.5" cy="321.5" r="1.9" fill="url(#gb)"/>
<circle cx="360.0" cy="324.0" r="1.9" fill="url(#gr)"/>
<circle cx="368.0" cy="322.5" r="1.9" fill="url(#gr)"/>
<circle cx="372.0" cy="323.0" r="1.9" fill="url(#gr)"/>
<circle cx="383.5" cy="322.0" r="1.9" fill="url(#gb)"/>
<circle cx="385.5" cy="324.0" r="1.9" fill="url(#gb)"/>
<circle cx="382.5" cy="326.0" r="1.9" fill="url(#gr)"/>
<circle cx="389.5" cy="327.0" r="1.9" fill="url(#gb)"/>
<circle cx="395.0" cy="325.0" r="1.9" fill="url(#gb)"/>
<circle cx="403.0" cy="325.5" r="1.9" fill="url(#gb)"/>
<circle cx="359.0" cy="326.5" r="1.9" fill="url(#gr)"/>
<circle cx="362.5" cy="326.0" r="1.9" fill="url(#gr)"/>
<circle cx="352.0" cy="327.0" r="1.9" fill="url(#gb)"/>
<circle cx="354.0" cy="329.0" r="1.9" fill="url(#gb)"/>
<circle cx="352.5" cy="331.0" r="1.9" fill="url(#gr)"/>
<circle cx="357.0" cy="332.0" r="1.9" fill="url(#gb)"/>
<circle cx="366.0" cy="330.0" r="1.9" fill="url(#gr)"/>
<circle cx="368.5" cy="329.0" r="1.9" fill="url(#gb)"/>
<circle cx="371.5" cy="329.0" r="1.9" fill="url(#gr)"/>
<circle cx="374.5" cy="328.5" r="1.9" fill="url(#gr)"/>
<circle cx="378.0" cy="330.0" r="1.9" fill="url(#gb)"/>
<circle cx="381.0" cy="329.0" r="1.9" fill="url(#gr)"/>
<circle cx="382.0" cy="331.5" r="1.9" fill="url(#gb)"/>
<circle cx="391.5" cy="330.0" r="1.9" fill="url(#gr)"/>
<circle cx="397.0" cy="330.0" r="1.9" fill="url(#gb)"/>
<circle cx="401.0" cy="331.0" r="1.9" fill="url(#gb)"/>
<circle cx="354.0" cy="334.5" r="1.9" fill="url(#gr)"/>
<circle cx="358.0" cy="334.5" r="1.9" fill="url(#gb)"/>
<circle cx="362.0" cy="335.0" r="1.9" fill="url(#gr)"/>
<circle cx="366.0" cy="334.0" r="1.9" fill="url(#gb)"/>
<circle cx="370.0" cy="333.0" r="1.9" fill="url(#gb)"/>
<circle cx="374.0" cy="333.5" r="1.9" fill="url(#gb)"/>
<circle cx="377.0" cy="333.5" r="1.9" fill="url(#gr)"/>
<circle cx="379.0" cy="332.0" r="1.9" fill="url(#gb)"/>
<circle cx="385.0" cy="333.5" r="1.9" fill="url(#gr)"/>
<circle cx="391.5" cy="334.5" r="1.9" fill="url(#gb)"/>
<circle cx="396.0" cy="336.5" r="1.9" fill="url(#gb)"/>
<circle cx="399.0" cy="337.5" r="1.9" fill="url(#gb)"/>
<circle cx="403.0" cy="335.0" r="1.9" fill="url(#gb)"/>
<circle cx="355.0" cy="338.5" r="1.9" fill="url(#gb)"/>
<circle cx="359.0" cy="338.5" r="1.9" fill="url(#gb)"/>
<circle cx="363.0" cy="338.5" r="1.9" fill="url(#gb)"/>
<circle cx="367.0" cy="337.5" r="1.9" fill="url(#gb)"/>
<circle cx="371.0" cy="337.0" r="1.9" fill="url(#gr)"/>
<circle cx="375.0" cy="336.5" r="1.9" fill="url(#gb)"/>
<circle cx="379.5" cy="336.0" r="1.9" fill="url(#gb)"/>
<circle cx="383.0" cy="337.5" r="1.9" fill="url(#gb)"/>
<circle cx="386.5" cy="336.5" r="1.9" fill="url(#gb)"/>
<circle cx="390.0" cy="337.5" r="1.9" fill="url(#gr)"/>
<circle cx="393.0" cy="338.0" r="1.9" fill="url(#gr)"/>
<circle cx="401.0" cy="339.0" r="1.9" fill="url(#gb)"/>
<circle cx="356.0" cy="342.0" r="1.9" fill="url(#gb)"/>
<circle cx="361.0" cy="341.0" r="1.9" fill="url(#gb)"/>
<circle cx="364.5" cy="341.5" r="1.9" fill="url(#gb)"/>
<circle cx="369.5" cy="340.5" r="1.9" fill="url(#gb)"/>
<circle cx="373.0" cy="341.0" r="1.9" fill="url(#gr)"/>
<circle cx="376.0" cy="342.5" r="1.9" fill="url(#gb)"/>
<circle cx="380.0" cy="340.5" r="1.9" fill="url(#gb)"/>
<circle cx="384.0" cy="341.5" r="1.9" fill="url(#gb)"/>
<circle cx="387.5" cy="342.0" r="1.9" fill="url(#gb)"/>
<circle cx="391.0" cy="340.5" r="1.9" fill="url(#gb)"/>
<circle cx="395.0" cy="341.5" r="1.9" fill="url(#gb)"/>
<circle cx="398.0" cy="341.0" r="1.9" fill="url(#gb)"/>
<circle cx="402.0" cy="342.5" r="1.9" fill="url(#gb)"/>
<circle cx="386.0" cy="343.5" r="1.9" fill="url(#gb)"/>
<circle cx="375.0" cy="343.5" r="1.9" fill="url(#gb)"/>
<circle cx="445.0" cy="293.5" r="1.9" fill="url(#gb)"/>
<circle cx="449.0" cy="293.2" r="1.9" fill="url(#gb)"/>
<circle cx="452.2" cy="296.2" r="1.9" fill="url(#gb)"/>
<circle cx="449.8" cy="307.8" r="1.9" fill="url(#gb)"/>
<circle cx="455.0" cy="313.8" r="1.9" fill="url(#gb)"/>
<circle cx="430.5" cy="323.5" r="1.9" fill="url(#gb)"/>
<circle cx="437.5" cy="327.0" r="1.9" fill="url(#gb)"/>
<circle cx="406.5" cy="330.0" r="1.9" fill="url(#gb)"/>
<circle cx="427.5" cy="330.0" r="1.9" fill="url(#gb)"/>
<circle cx="431.0" cy="332.0" r="1.9" fill="url(#gb)"/>
<circle cx="448.0" cy="330.0" r="1.9" fill="url(#gb)"/>
<circle cx="449.5" cy="335.0" r="1.9" fill="url(#gb)"/>
<circle cx="405.0" cy="334.5" r="1.9" fill="url(#gr)"/>
<circle cx="408.0" cy="336.0" r="1.9" fill="url(#gr)"/>
<circle cx="420.0" cy="334.5" r="1.9" fill="url(#gr)"/>
<circle cx="416.0" cy="336.0" r="1.9" fill="url(#gb)"/>
<circle cx="436.0" cy="333.5" r="1.9" fill="url(#gb)"/>
<circle cx="439.0" cy="334.0" r="1.9" fill="url(#gb)"/>
<circle cx="446.0" cy="337.0" r="1.9" fill="url(#gr)"/>
<circle cx="405.5" cy="341.0" r="1.9" fill="url(#gb)"/>
<circle cx="411.0" cy="341.8" r="1.9" fill="url(#gb)"/>
<circle cx="414.5" cy="340.0" r="1.9" fill="url(#gb)"/>
<circle cx="417.0" cy="338.5" r="1.9" fill="url(#gb)"/>
<circle cx="420.0" cy="339.5" r="1.9" fill="url(#gb)"/>
<circle cx="423.0" cy="339.0" r="1.9" fill="url(#gb)"/>
<circle cx="426.0" cy="337.5" r="1.9" fill="url(#gb)"/>
<circle cx="428.0" cy="340.0" r="1.9" fill="url(#gb)"/>
<circle cx="430.0" cy="338.5" r="1.9" fill="url(#gb)"/>
<circle cx="432.5" cy="340.5" r="1.9" fill="url(#gb)"/>
<circle cx="434.0" cy="339.0" r="1.9" fill="url(#gb)"/>
<circle cx="439.0" cy="340.0" r="1.9" fill="url(#gb)"/>
<circle cx="449.0" cy="340.5" r="1.9" fill="url(#gb)"/>
<circle cx="452.0" cy="339.5" r="1.9" fill="url(#gb)"/>
<circle cx="455.0" cy="340.0" r="1.9" fill="url(#gb)"/>
<circle cx="424.0" cy="341.5" r="1.9" fill="url(#gb)"/>
<circle cx="417.0" cy="342.0" r="1.9" fill="url(#gb)"/>
<circle cx="484.0" cy="302.2" r="1.9" fill="url(#gb)"/>
<circle cx="502.0" cy="298.5" r="1.9" fill="url(#gb)"/>
<circle cx="472.0" cy="320.8" r="1.9" fill="url(#gb)"/>
<circle cx="504.0" cy="320.2" r="1.9" fill="url(#gb)"/>
<circle cx="459.0" cy="326.8" r="1.9" fill="url(#gb)"/>
<circle cx="463.0" cy="334.0" r="1.9" fill="url(#gr)"/>
<circle cx="466.5" cy="332.8" r="1.9" fill="url(#gb)"/>
<circle cx="470.5" cy="335.2" r="1.9" fill="url(#gb)"/>
<circle cx="460.5" cy="337.0" r="1.9" fill="url(#gb)"/>
<circle cx="463.0" cy="338.0" r="1.9" fill="url(#gb)"/>
<circle cx="465.5" cy="337.5" r="1.9" fill="url(#gb)"/>
<circle cx="468.0" cy="337.0" r="1.9" fill="url(#gb)"/>
<circle cx="469.5" cy="338.5" r="1.9" fill="url(#gb)"/>
<circle cx="465.5" cy="341.0" r="1.9" fill="url(#gb)"/>
<circle cx="476.5" cy="336.0" r="1.9" fill="url(#gb)"/>
<circle cx="480.5" cy="337.2" r="1.9" fill="url(#gb)"/>
<circle cx="476.0" cy="341.0" r="1.9" fill="url(#gb)"/>
<circle cx="478.0" cy="342.8" r="1.9" fill="url(#gb)"/>
<circle cx="483.5" cy="331.8" r="1.9" fill="url(#gb)"/>
<circle cx="485.5" cy="335.0" r="1.9" fill="url(#gb)"/>
<circle cx="484.5" cy="337.0" r="1.9" fill="url(#gb)"/>
<circle cx="486.0" cy="339.5" r="1.9" fill="url(#gb)"/>
<circle cx="485.8" cy="341.5" r="1.9" fill="url(#gb)"/>
<circle cx="495.5" cy="331.8" r="1.9" fill="url(#gb)"/>
<circle cx="501.8" cy="329.5" r="1.9" fill="url(#gr)"/>
<circle cx="497.5" cy="338.0" r="1.9" fill="url(#gb)"/>
<circle cx="498.0" cy="341.0" r="1.9" fill="url(#gb)"/>
<circle cx="504.2" cy="341.2" r="1.9" fill="url(#gb)"/>
<circle cx="509.6" cy="338.3" r="1.9" fill="url(#gb)"/>
<circle cx="316.0" cy="334.0" r="1.9" fill="url(#gr)"/>
<circle cx="320.0" cy="338.0" r="1.9" fill="url(#gb)"/>
<circle cx="324.0" cy="331.0" r="1.9" fill="url(#gr)"/>
<circle cx="328.0" cy="340.0" r="1.9" fill="url(#gb)"/>
<circle cx="332.0" cy="335.0" r="1.9" fill="url(#gr)"/>
<circle cx="336.0" cy="341.0" r="1.9" fill="url(#gb)"/>
<circle cx="340.0" cy="333.0" r="1.9" fill="url(#gb)"/>
<circle cx="344.0" cy="338.0" r="1.9" fill="url(#gr)"/>
<circle cx="348.0" cy="342.0" r="1.9" fill="url(#gb)"/>
<circle cx="352.0" cy="336.0" r="1.9" fill="url(#gb)"/>
<circle cx="356.0" cy="340.0" r="1.9" fill="url(#gb)"/>
<circle cx="318.0" cy="342.0" r="1.9" fill="url(#gr)"/>
<circle cx="326.0" cy="344.0" r="1.9" fill="url(#gb)"/>
<circle cx="334.0" cy="345.0" r="1.9" fill="url(#gr)"/>
<circle cx="342.0" cy="344.0" r="1.9" fill="url(#gb)"/>
<circle cx="313.0" cy="328.0" r="1.9" fill="url(#gr)"/>
<circle cx="330.0" cy="327.0" r="1.9" fill="url(#gr)"/>
<line x1="31.95" y1="20.6" x2="31.95" y2="174.9" stroke="#7e7e7e" stroke-width="1.35"/>
<line x1="31.45" y1="174.4" x2="252.0" y2="174.4" stroke="#606060" stroke-width="1.05"/>
<g stroke="#6a6a6a" stroke-width="1.0" fill="none">
<line x1="28.95" y1="170.40" x2="31.95" y2="170.40"/>
<line x1="28.95" y1="134.10" x2="31.95" y2="134.10"/>
<line x1="28.95" y1="97.80" x2="31.95" y2="97.80"/>
<line x1="28.95" y1="61.50" x2="31.95" y2="61.50"/>
<line x1="28.95" y1="25.20" x2="31.95" y2="25.20"/>
<line x1="36.10" y1="174.4" x2="36.10" y2="177.4"/>
<line x1="78.42" y1="174.4" x2="78.42" y2="177.4"/>
<line x1="120.74" y1="174.4" x2="120.74" y2="177.4"/>
<line x1="163.06" y1="174.4" x2="163.06" y2="177.4"/>
<line x1="205.38" y1="174.4" x2="205.38" y2="177.4"/>
<line x1="247.70" y1="174.4" x2="247.70" y2="177.4"/>
</g>
<g font-family='"Liberation Sans", sans-serif' font-size="6.5" fill="#000" stroke="#000" stroke-width="0.3">
<text x="27.75" y="172.70" text-anchor="end">5</text>
<text x="27.75" y="136.40" text-anchor="end">10</text>
<text x="27.75" y="100.10" text-anchor="end">15</text>
<text x="27.75" y="63.80" text-anchor="end">20</text>
<text x="27.75" y="27.50" text-anchor="end">25</text>
<text x="36.10" y="183.10" text-anchor="middle">0</text>
<text x="78.42" y="183.10" text-anchor="middle">20</text>
<text x="120.74" y="183.10" text-anchor="middle">40</text>
<text x="163.06" y="183.10" text-anchor="middle">60</text>
<text x="205.38" y="183.10" text-anchor="middle">80</text>
<text x="247.70" y="183.10" text-anchor="middle">100</text>
</g>
<text x="38.9" y="26.7" font-family='"Liberation Sans", sans-serif' font-size="7.7" fill="#000" stroke="#000" stroke-width="0.3">Hemoglobin level</text>
<text transform="translate(5.3,98.7) rotate(-90)" text-anchor="middle" font-family='"Liberation Sans", sans-serif' font-size="6.5" fill="#000" stroke="#000" stroke-width="0.2">Hb (g/dL)</text>
<text x="88.2" y="192.5" font-family='"Liberation Sans", sans-serif' font-size="6.35" fill="#000" stroke="#000" stroke-width="0.28"><tspan font-style="italic">JAK2</tspan> (V617F) mutant allele burden (%)</text>
<line x1="298.55" y1="21.0" x2="298.55" y2="174.8" stroke="#7e7e7e" stroke-width="1.35"/>
<line x1="298.05" y1="174.3" x2="518.5" y2="174.3" stroke="#606060" stroke-width="1.05"/>
<g stroke="#6a6a6a" stroke-width="1.0" fill="none">
<line x1="295.55" y1="169.40" x2="298.55" y2="169.40"/>
<line x1="295.55" y1="135.10" x2="298.55" y2="135.10"/>
<line x1="295.55" y1="100.80" x2="298.55" y2="100.80"/>
<line x1="295.55" y1="66.50" x2="298.55" y2="66.50"/>
<line x1="295.55" y1="32.20" x2="298.55" y2="32.20"/>
<line x1="302.30" y1="174.3" x2="302.30" y2="177.3"/>
<line x1="344.84" y1="174.3" x2="344.84" y2="177.3"/>
<line x1="387.38" y1="174.3" x2="387.38" y2="177.3"/>
<line x1="429.92" y1="174.3" x2="429.92" y2="177.3"/>
<line x1="472.46" y1="174.3" x2="472.46" y2="177.3"/>
<line x1="515.00" y1="174.3" x2="515.00" y2="177.3"/>
</g>
<g font-family='"Liberation Sans", sans-serif' font-size="6.5" fill="#000" stroke="#000" stroke-width="0.3">
<text x="294.35" y="171.70" text-anchor="end">30</text>
<text x="294.35" y="137.40" text-anchor="end">40</text>
<text x="294.35" y="103.10" text-anchor="end">50</text>
<text x="294.35" y="68.80" text-anchor="end">60</text>
<text x="294.35" y="34.50" text-anchor="end">70</text>
<text x="302.30" y="183.00" text-anchor="middle">0</text>
<text x="344.84" y="183.00" text-anchor="middle">20</text>
<text x="387.38" y="183.00" text-anchor="middle">40</text>
<text x="429.92" y="183.00" text-anchor="middle">60</text>
<text x="472.46" y="183.00" text-anchor="middle">80</text>
<text x="515.00" y="183.00" text-anchor="middle">100</text>
</g>
<text x="304.6" y="28.8" font-family='"Liberation Sans", sans-serif' font-size="7.7" fill="#000" stroke="#000" stroke-width="0.3">Hematocrit</text>
<text transform="translate(275.2,98.0) rotate(-90)" text-anchor="middle" font-family='"Liberation Sans", sans-serif' font-size="6.5" fill="#000" stroke="#000" stroke-width="0.2">Hct (%)</text>
<text x="353.2" y="192.5" font-family='"Liberation Sans", sans-serif' font-size="6.35" fill="#000" stroke="#000" stroke-width="0.28"><tspan font-style="italic">JAK2</tspan> (V617F) mutant allele burden (%)</text>
<line x1="31.9" y1="192.3" x2="31.9" y2="347.9" stroke="#7e7e7e" stroke-width="1.35"/>
<line x1="31.4" y1="347.4" x2="252.6" y2="347.4" stroke="#606060" stroke-width="1.05"/>
<g stroke="#6a6a6a" stroke-width="1.0" fill="none">
<line x1="28.9" y1="343.40" x2="31.9" y2="343.40"/>
<line x1="28.9" y1="309.40" x2="31.9" y2="309.40"/>
<line x1="28.9" y1="275.40" x2="31.9" y2="275.40"/>
<line x1="28.9" y1="241.40" x2="31.9" y2="241.40"/>
<line x1="28.9" y1="207.40" x2="31.9" y2="207.40"/>
<line x1="36.05" y1="347.4" x2="36.05" y2="350.4"/>
<line x1="78.52" y1="347.4" x2="78.52" y2="350.4"/>
<line x1="120.99" y1="347.4" x2="120.99" y2="350.4"/>
<line x1="163.46" y1="347.4" x2="163.46" y2="350.4"/>
<line x1="205.93" y1="347.4" x2="205.93" y2="350.4"/>
<line x1="248.40" y1="347.4" x2="248.40" y2="350.4"/>
</g>
<g font-family='"Liberation Sans", sans-serif' font-size="6.5" fill="#000" stroke="#000" stroke-width="0.3">
<text x="27.70" y="345.70" text-anchor="end">0</text>
<text x="27.70" y="311.70" text-anchor="end">500</text>
<text x="27.70" y="277.70" text-anchor="end">1000</text>
<text x="27.70" y="243.70" text-anchor="end">1500</text>
<text x="27.70" y="209.70" text-anchor="end">2000</text>
<text x="36.05" y="356.60" text-anchor="middle">0</text>
<text x="78.52" y="356.60" text-anchor="middle">20</text>
<text x="120.99" y="356.60" text-anchor="middle">40</text>
<text x="163.46" y="356.60" text-anchor="middle">60</text>
<text x="205.93" y="356.60" text-anchor="middle">80</text>
<text x="248.40" y="356.60" text-anchor="middle">100</text>
</g>
<text x="38.9" y="208.6" font-family='"Liberation Sans", sans-serif' font-size="7.7" fill="#000" stroke="#000" stroke-width="0.3">Platelet count</text>
<text transform="translate(8.9,270.0) rotate(-90)" text-anchor="middle" font-family='"Liberation Sans", sans-serif' font-size="6.5" fill="#000" stroke="#000" stroke-width="0.2" letter-spacing="0.25">PLT count (x 10^9/L)</text>
<text x="88.2" y="366.8" font-family='"Liberation Sans", sans-serif' font-size="6.35" fill="#000" stroke="#000" stroke-width="0.28"><tspan font-style="italic">JAK2</tspan> (V617F) mutant allele burden (%)</text>
<line x1="298.4" y1="193.4" x2="298.4" y2="348.7" stroke="#7e7e7e" stroke-width="1.35"/>
<line x1="297.9" y1="348.2" x2="518.7" y2="348.2" stroke="#606060" stroke-width="1.05"/>
<g stroke="#6a6a6a" stroke-width="1.0" fill="none">
<line x1="295.4" y1="344.40" x2="298.4" y2="344.40"/>
<line x1="295.4" y1="322.23" x2="298.4" y2="322.23"/>
<line x1="295.4" y1="300.07" x2="298.4" y2="300.07"/>
<line x1="295.4" y1="277.90" x2="298.4" y2="277.90"/>
<line x1="295.4" y1="255.73" x2="298.4" y2="255.73"/>
<line x1="295.4" y1="233.56" x2="298.4" y2="233.56"/>
<line x1="295.4" y1="211.40" x2="298.4" y2="211.40"/>
<line x1="302.20" y1="348.2" x2="302.20" y2="351.2"/>
<line x1="344.76" y1="348.2" x2="344.76" y2="351.2"/>
<line x1="387.32" y1="348.2" x2="387.32" y2="351.2"/>
<line x1="429.88" y1="348.2" x2="429.88" y2="351.2"/>
<line x1="472.44" y1="348.2" x2="472.44" y2="351.2"/>
<line x1="515.00" y1="348.2" x2="515.00" y2="351.2"/>
</g>
<g font-family='"Liberation Sans", sans-serif' font-size="6.5" fill="#000" stroke="#000" stroke-width="0.3">
<text x="294.20" y="346.70" text-anchor="end">0</text>
<text x="294.20" y="324.53" text-anchor="end">10</text>
<text x="294.20" y="302.37" text-anchor="end">20</text>
<text x="294.20" y="280.20" text-anchor="end">30</text>
<text x="294.20" y="258.03" text-anchor="end">40</text>
<text x="294.20" y="235.87" text-anchor="end">50</text>
<text x="294.20" y="213.70" text-anchor="end">60</text>
<text x="302.20" y="356.90" text-anchor="middle">0</text>
<text x="344.76" y="356.90" text-anchor="middle">20</text>
<text x="387.32" y="356.90" text-anchor="middle">40</text>
<text x="429.88" y="356.90" text-anchor="middle">60</text>
<text x="472.44" y="356.90" text-anchor="middle">80</text>
<text x="515.00" y="356.90" text-anchor="middle">100</text>
</g>
<text x="303.7" y="211.0" font-family='"Liberation Sans", sans-serif' font-size="7.7" fill="#000" stroke="#000" stroke-width="0.3">Serum erythropoietin</text>
<text transform="translate(283.3,269.0) rotate(-90)" text-anchor="middle" font-family='"Liberation Sans", sans-serif' font-size="6.5" fill="#000" stroke="#000" stroke-width="0.2">Serum erythropoietin (mU/mL)</text>
<text x="353.2" y="366.8" font-family='"Liberation Sans", sans-serif' font-size="6.35" fill="#000" stroke="#000" stroke-width="0.28"><tspan font-style="italic">JAK2</tspan> (V617F) mutant allele burden (%)</text>
<rect x="226.6" y="0.5" width="108.6" height="11.5" fill="#fff" stroke="#333" stroke-width="0.9"/>
<circle cx="230.8" cy="6" r="1.8" fill="#b3202c"/>
<text x="236.4" y="8.5" font-family='"Liberation Sans", sans-serif' font-size="6.4" fill="#000" stroke="#000" stroke-width="0.2"><tspan font-style="italic">JAK2</tspan> (V617F) mutated ET</text>
<circle cx="318.5" cy="6" r="1.8" fill="#35357e"/>
<text x="324" y="8.5" font-family='"Liberation Sans", sans-serif' font-size="6.4" fill="#000" stroke="#000" stroke-width="0.2">PV</text>
</svg>
</body></html>
